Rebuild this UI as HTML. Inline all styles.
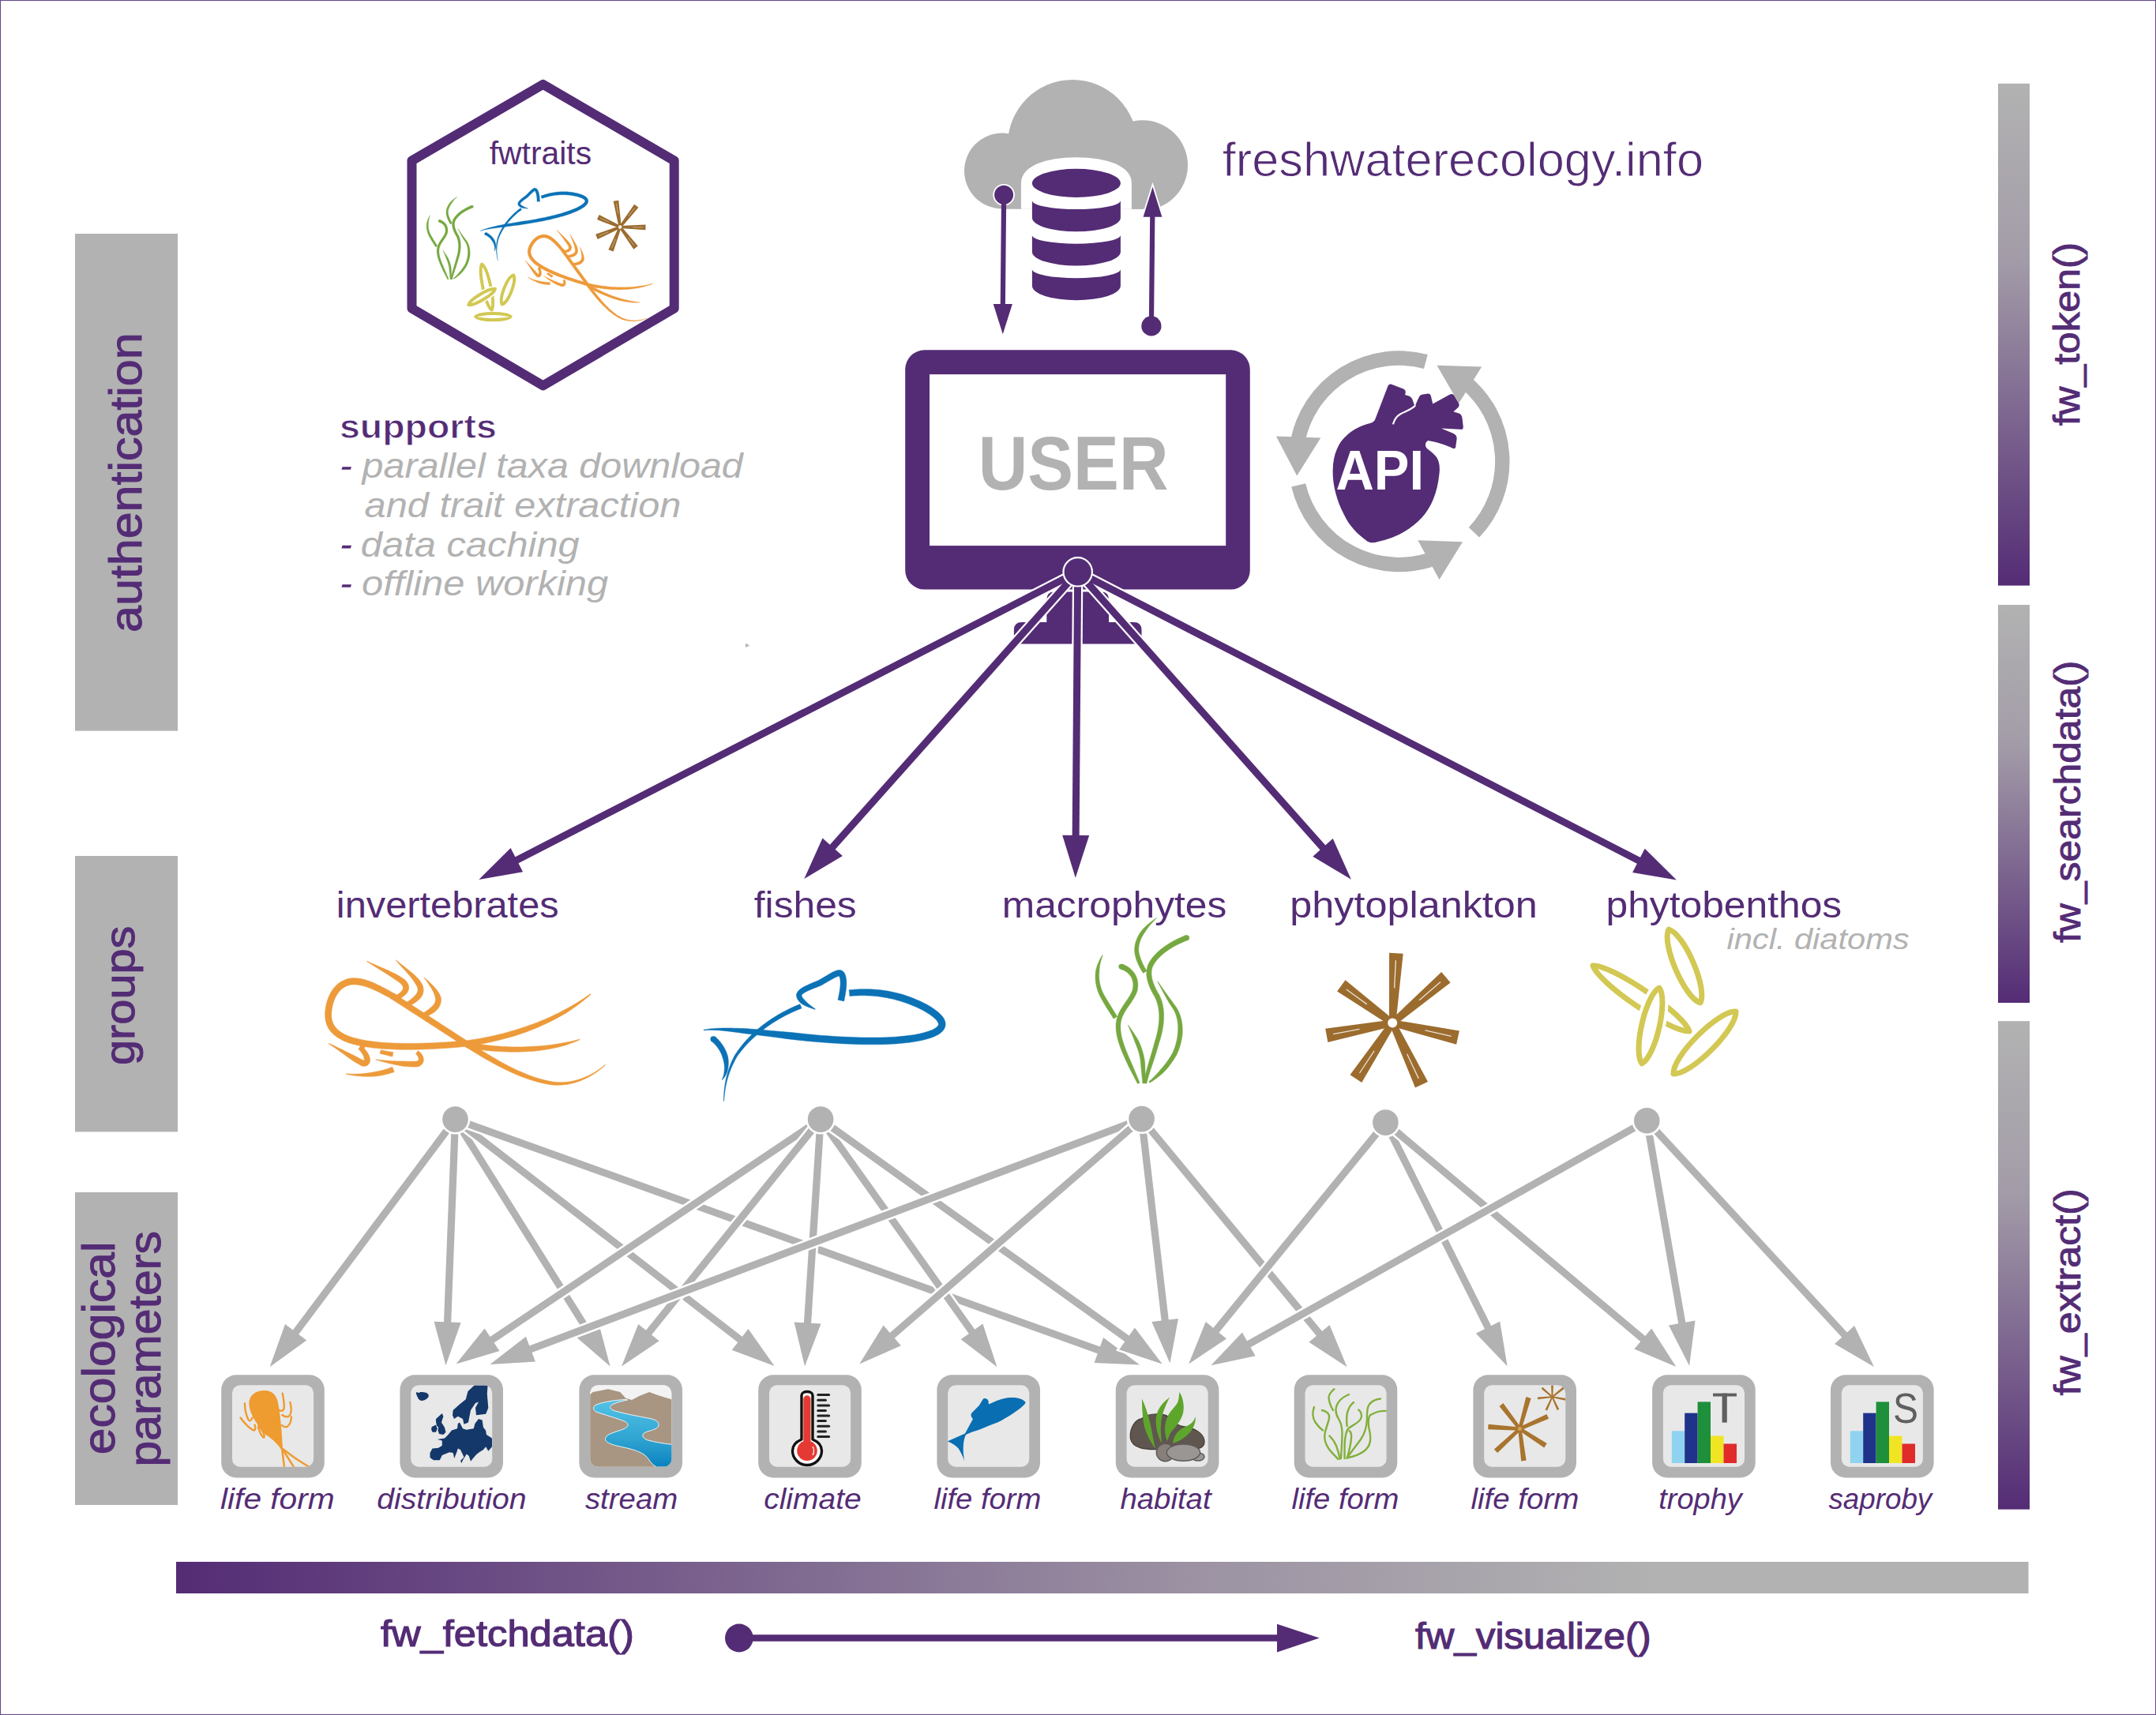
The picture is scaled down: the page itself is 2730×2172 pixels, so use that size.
<!DOCTYPE html><html><head><meta charset="utf-8"><style>html,body{margin:0;padding:0;background:#fff;}svg{display:block;}text{font-family:"Liberation Sans",sans-serif;}</style></head><body>
<svg xmlns="http://www.w3.org/2000/svg" width="2730" height="2172" viewBox="0 0 2730 2172">
<defs>
<linearGradient id="gv" x1="0" y1="0" x2="0" y2="1"><stop offset="0" stop-color="#b2b2b2"/><stop offset="0.35" stop-color="#a39ca8"/><stop offset="1" stop-color="#542c75"/></linearGradient>
<linearGradient id="gh" x1="0" y1="0" x2="1" y2="0"><stop offset="0" stop-color="#542c75"/><stop offset="0.55" stop-color="#9c92a3"/><stop offset="0.8" stop-color="#b2b2b2"/><stop offset="1" stop-color="#b2b2b2"/></linearGradient>
</defs>
<rect x="0" y="0" width="2730" height="2172" fill="#fff"/>
<rect x="0.5" y="0.5" width="2729" height="2171" fill="none" stroke="#6b4d8c" stroke-width="1.2"/>
<rect x="95" y="296" width="130" height="629.6" fill="#b2b2b2"/>
<rect x="95" y="1084" width="130" height="349.4" fill="#b2b2b2"/>
<rect x="95" y="1510" width="130" height="396.0" fill="#b2b2b2"/>
<text transform="translate(179,800.9) rotate(-90)" x="0" y="0" font-size="57" font-weight="normal" font-style="normal" textLength="379.46" lengthAdjust="spacingAndGlyphs" fill="#542c75" stroke="#542c75" stroke-width="1.0">authentication</text>
<text transform="translate(169.6,1349.0) rotate(-90)" x="0" y="0" font-size="54.5" font-weight="normal" font-style="normal" textLength="176.46" lengthAdjust="spacingAndGlyphs" fill="#542c75" stroke="#542c75" stroke-width="1.0">groups</text>
<text transform="translate(145.4,1842.2) rotate(-90)" x="0" y="0" font-size="57" font-weight="normal" font-style="normal" textLength="269.75" lengthAdjust="spacingAndGlyphs" fill="#542c75" stroke="#542c75" stroke-width="1.0">ecological</text>
<text transform="translate(202.8,1857.6) rotate(-90)" x="0" y="0" font-size="57" font-weight="normal" font-style="normal" textLength="298.52" lengthAdjust="spacingAndGlyphs" fill="#542c75" stroke="#542c75" stroke-width="1.0">parameters</text>
<rect x="2530" y="105.8" width="40" height="635.8" fill="url(#gv)"/>
<rect x="2530" y="766" width="40" height="504.0" fill="url(#gv)"/>
<rect x="2530" y="1293.2" width="40" height="618.4" fill="url(#gv)"/>
<text transform="translate(2633.3,539.2) rotate(-90)" x="0" y="0" font-size="45.6" font-weight="normal" font-style="normal" textLength="232.21" lengthAdjust="spacingAndGlyphs" fill="#542c75" stroke="#542c75" stroke-width="0.9">fw_token()</text>
<text transform="translate(2633.8,1194.0) rotate(-90)" x="0" y="0" font-size="45.6" font-weight="normal" font-style="normal" textLength="357.47" lengthAdjust="spacingAndGlyphs" fill="#542c75" stroke="#542c75" stroke-width="0.9">fw_searchdata()</text>
<text transform="translate(2633.7,1767.4) rotate(-90)" x="0" y="0" font-size="45.6" font-weight="normal" font-style="normal" textLength="262.07" lengthAdjust="spacingAndGlyphs" fill="#542c75" stroke="#542c75" stroke-width="0.9">fw_extract()</text>
<rect x="223" y="1978" width="2345.5" height="40" fill="url(#gh)"/>
<text x="482.0" y="2084.9" font-size="46.4" font-weight="normal" font-style="normal" textLength="320.81" lengthAdjust="spacingAndGlyphs" fill="#542c75" stroke="#542c75" stroke-width="1.2">fw_fetchdata()</text>
<text x="1792.1" y="2087.9" font-size="46.4" font-weight="normal" font-style="normal" textLength="298.65" lengthAdjust="spacingAndGlyphs" fill="#542c75" stroke="#542c75" stroke-width="1.2">fw_visualize()</text>
<line x1="936" y1="2074.6" x2="1620" y2="2074.6" stroke="#542c75" stroke-width="8.5"/>
<polygon points="1670.8,2074.6 1617,2056.8 1617,2092.4" fill="#542c75"/>
<circle cx="935.9" cy="2074.5" r="17.9" fill="#542c75"/>
<rect x="280.2" y="1741.2" width="130.6" height="130.2" rx="19" fill="#b2b2b2"/>
<rect x="294.0" y="1754.2" width="103.1" height="103.6" rx="10" fill="#e8e8e8"/>
<rect x="506.4" y="1741.2" width="130.6" height="130.2" rx="19" fill="#b2b2b2"/>
<rect x="520.2" y="1754.2" width="103.1" height="103.6" rx="10" fill="#e8e8e8"/>
<rect x="733.4" y="1741.2" width="130.6" height="130.2" rx="19" fill="#b2b2b2"/>
<rect x="747.2" y="1754.2" width="103.1" height="103.6" rx="10" fill="#e8e8e8"/>
<rect x="960.2" y="1741.2" width="130.6" height="130.2" rx="19" fill="#b2b2b2"/>
<rect x="974.0" y="1754.2" width="103.1" height="103.6" rx="10" fill="#e8e8e8"/>
<rect x="1186.4" y="1741.2" width="130.6" height="130.2" rx="19" fill="#b2b2b2"/>
<rect x="1200.2" y="1754.2" width="103.1" height="103.6" rx="10" fill="#e8e8e8"/>
<rect x="1412.8" y="1741.2" width="130.6" height="130.2" rx="19" fill="#b2b2b2"/>
<rect x="1426.6" y="1754.2" width="103.1" height="103.6" rx="10" fill="#e8e8e8"/>
<rect x="1638.7" y="1741.2" width="130.6" height="130.2" rx="19" fill="#b2b2b2"/>
<rect x="1652.5" y="1754.2" width="103.1" height="103.6" rx="10" fill="#e8e8e8"/>
<rect x="1865.4" y="1741.2" width="130.6" height="130.2" rx="19" fill="#b2b2b2"/>
<rect x="1879.2" y="1754.2" width="103.1" height="103.6" rx="10" fill="#e8e8e8"/>
<rect x="2092.1" y="1741.2" width="130.6" height="130.2" rx="19" fill="#b2b2b2"/>
<rect x="2105.9" y="1754.2" width="103.1" height="103.6" rx="10" fill="#e8e8e8"/>
<rect x="2318.0" y="1741.2" width="130.6" height="130.2" rx="19" fill="#b2b2b2"/>
<rect x="2331.8" y="1754.2" width="103.1" height="103.6" rx="10" fill="#e8e8e8"/>
<defs>
<clipPath id="cb0"><rect x="14.0" y="14.2" width="103.1" height="103.6" rx="10"/></clipPath>
<clipPath id="cb1"><rect x="14.2" y="14.2" width="103.1" height="103.6" rx="10"/></clipPath>
<clipPath id="cb2"><rect x="14.2" y="14.2" width="103.1" height="103.6" rx="10"/></clipPath>
<clipPath id="cb3"><rect x="14.0" y="14.2" width="103.1" height="103.6" rx="10"/></clipPath>
<clipPath id="cb4"><rect x="14.2" y="14.2" width="103.1" height="103.6" rx="10"/></clipPath>
<clipPath id="cb5"><rect x="14.6" y="14.2" width="103.1" height="103.6" rx="10"/></clipPath>
<clipPath id="cb6"><rect x="14.5" y="14.2" width="103.1" height="103.6" rx="10"/></clipPath>
<clipPath id="cb7"><rect x="15.2" y="14.2" width="103.1" height="103.6" rx="10"/></clipPath>
<clipPath id="cb8"><rect x="14.9" y="14.2" width="103.1" height="103.6" rx="10"/></clipPath>
<clipPath id="cb9"><rect x="14.8" y="14.2" width="103.1" height="103.6" rx="10"/></clipPath>
<linearGradient id="river" x1="0" y1="0" x2="0" y2="1"><stop offset="0" stop-color="#55c3e8"/><stop offset="0.6" stop-color="#2ea3d1"/><stop offset="1" stop-color="#0a82bf"/></linearGradient>
</defs>
<g transform="translate(280,1740)" clip-path="url(#cb0)">
<path d="M35.4,38 C35,27 44,21 55,21 C64,21 69,26 71.5,34 C74,45 75.5,60 76.5,72 L78,95 L76,95.5 C71,88 63,81 58,78 C51,73 48,69 45.5,63 C40,55 35.6,46 35.4,38 Z" fill="#ee9b30"/>
<g fill="none" stroke="#ee9b30" stroke-width="2.4" stroke-linecap="round">
<path d="M30,37.5 C30,46 32,53 34.5,58 C36,60.5 38.5,59 39.5,55.5"/>
<path d="M24.5,55.5 C30,63 36,69 41,71.5 C43.5,72 44,68 42.5,64.5"/>
<path d="M47,67 C48,72 51,79 53.5,80.5 C55.5,81 55,76 52,72"/>
<path d="M77.7,24.6 C79,32 80.5,39 79.5,44 C78.5,47 76,47.5 74,46"/>
<path d="M87.3,36 C89,42 89,49 87,52.5 C85,55 81,55 77.5,52"/>
<path d="M89,54.5 C88.5,60 87,64.5 84,66.5 C81.5,68 79,67 77,65"/>
<path d="M77,94 C78,102 79,110 80,118"/>
<path d="M77.5,95 C82,102 87,110 92,118"/>
<path d="M78,95 C88,103 98,110 110,117"/>
</g>
</g>
<g transform="translate(506,1740)" clip-path="url(#cb1)">
<g fill="#15386a">
<path d="M21,25 C20,23 22,22.5 24,24 C26,22.5 30,22.5 34,24 C37.5,25.5 37.5,29 35,31 C32,33.5 28,34.5 26,33.5 C24,32.5 23,30 22,28 Z"/>
<path d="M67.7,46 L76,38.5 L83.8,32.3 L86.5,22 L94.6,14.6 L111.5,14.6 L110.8,25.4 L112.3,43 L109.2,50.8 L97,52.3 L96,43 L100,35.4 L96,37 L90,46 L88.5,53.8 L87,61.5 L81.5,63.8 L80,57 L73.8,53.8 L69,57 L67,52.3 Z"/>
<path d="M38.5,100 L41.5,94.6 L49.2,93.8 L53.8,90.8 L53.8,84.6 L47.7,83 L57,81.5 L61.5,77 L66,71.5 L73,69.2 L73.8,63 L76,61.5 L80,69.2 L84.6,70.8 L93.8,69.2 L95.4,63 L100,57 L104.6,58.5 L106,67.7 L109,71.5 L110,77 L117,81.5 L117,92.3 L112.3,97.7 L109.2,92.3 L106,96 L100.8,99.2 L97,102.3 L92.3,107.7 L90,110.8 L87.7,103.8 L84.6,101.5 L83,104.6 L80,109.2 L78.5,113 L77,110 L81.5,105.4 L80,102.3 L77,96 L73.8,94.6 L72.3,99.2 L69.2,107 L67.7,100 L63,99.2 L53.8,103 L50.8,109.2 L43,109.2 L38.5,106 Z"/>
<path d="M46,57 L53.8,50 L55.4,53.8 L53,61.5 L57,67.7 L58.5,73.8 L55.4,77 L50,76 L48.5,71.5 L49.2,67.7 L47,65.4 L46,60.8 Z"/>
<path d="M40.8,67 L46,64.6 L47.7,69.2 L46,73.8 L41.5,73.8 L40,70 Z"/>
</g>
</g>
<g transform="translate(733,1740)" clip-path="url(#cb2)">
<rect x="0" y="0" width="130" height="130" fill="#f3f3f3"/>
<path d="M13,27 L17.7,23 L37,19.2 L52.3,23 L59.2,30.8 L67,33 L77,27.7 L89.2,23 L100,27 L120,33 L120,125 L13,125 Z" fill="#a89682"/>
<path d="M60,32.3 C50,33 30,35 21,39.5 C17,42 18,46.5 23,48.5 C30,51 48,56 57.7,60 C64,63 64,67.5 53.8,70.8 C45,74 36,76 33.8,80.8 C32,85 37,89 53.8,92.3 C66,95 78,98 84.6,103.8 C89,108 91,114 98.5,118 L120,118 L120,89.5 C112,89 96,86.5 86,83.5 C80,81 79,76 84.6,73.8 C90,71.5 98,71 100.8,66 C102,61 98,58 90,56.5 C80,54.5 60,51 46,47 C38,44.5 38,41 43,38.5 C48,36 56,34 61.5,33 Z" fill="url(#river)" stroke="#e9f4f8" stroke-width="1"/>
</g>
<g transform="translate(960,1740)" clip-path="url(#cb3)">
<path d="M55,27 C55,21 69,21 69,27 L69,83 C76,86 80.5,91 80.5,97.3 C80.5,107.5 72,115.5 62,115.5 C52,115.5 43.5,107.5 43.5,97.3 C43.5,91 48,86 55,83 Z" fill="#fff" stroke="#111" stroke-width="3.4" stroke-linejoin="round"/>
<rect x="57.3" y="27.3" width="9.2" height="62" rx="4.6" fill="#e53a33"/>
<circle cx="62" cy="97.3" r="12.8" fill="#e53a33"/>
<path d="M69,92 C71,95 71,100 69,103" stroke="#fff" stroke-width="1.3" fill="none"/>
<line x1="75.8" y1="26.5" x2="89.6" y2="26.5" stroke="#222" stroke-width="3" stroke-linecap="round"/>
<line x1="75.8" y1="33.2" x2="85.4" y2="33.2" stroke="#222" stroke-width="3" stroke-linecap="round"/>
<line x1="75.8" y1="40" x2="89.6" y2="40" stroke="#222" stroke-width="3" stroke-linecap="round"/>
<line x1="75.8" y1="46.5" x2="85.4" y2="46.5" stroke="#222" stroke-width="3" stroke-linecap="round"/>
<line x1="75.8" y1="53" x2="89.6" y2="53" stroke="#222" stroke-width="3" stroke-linecap="round"/>
<line x1="75.8" y1="59.6" x2="85.4" y2="59.6" stroke="#222" stroke-width="3" stroke-linecap="round"/>
<line x1="75.8" y1="66.3" x2="89.6" y2="66.3" stroke="#222" stroke-width="3" stroke-linecap="round"/>
<line x1="75.8" y1="73" x2="85.4" y2="73" stroke="#222" stroke-width="3" stroke-linecap="round"/>
<line x1="75.8" y1="79.6" x2="89.6" y2="79.6" stroke="#222" stroke-width="3" stroke-linecap="round"/>
</g>
<g transform="translate(1186,1740)" clip-path="url(#cb4)">
<path d="M112.7,36.2 C110,31 100,29.5 92.3,30 C85,30.5 75,34 66,38.5 L65.4,33.8 C64,31 60,30 58.5,32.3 L53.8,40 L44.6,49.2 C43,51 43,54 46,57 L36,75.4 L13.8,85.4 C20,88 25,91 28,95 C31,100 33.5,105 35.4,110.8 C34,104 33.5,98 33.8,92.3 C34,86 35,81 37,77 C43,74 49,72.5 53.8,70.8 C62,67.5 70,64 77,61.5 C86,57 94,52 100,47.7 C106,43.5 111,40 112.7,36.2 Z" fill="#0a6eb2"/>
</g>
<g transform="translate(1412,1740)" clip-path="url(#cb5)">
<path d="M19.5,82 C18,68 26,58 33,57 C38,53 46,50.5 55,51 C62,51 67,53 71,57 C76,63 80,66 88,67 C100,68.5 112,75 113,85 C113.5,92 108,95 100,95 L55,95.5 C40,96 22,95 19.5,82 Z" fill="#5f574f" stroke="#463f39" stroke-width="1.3"/>
<g fill="#5ea52b">
<path d="M34,31.5 C38,40 42,52 45,65 C47,76 49,86 51,94.6 C46,88 41,79 38,70 C35,60 34,45 34,31.5 Z"/>
<path d="M69,29.6 C64,34 56,40 53,50 C50,60 52,75 59,87.7 C58,78 57,66 59,56 C61,46 65,38 69,29.6 Z"/>
<path d="M81.5,23 C86,30 88,40 86,50 C83,60 76,68 70,75 C68,80 66,84 66,85.4 C62,76 62,64 66,55 C70,46 76,42 78,38 C81,34 80.5,28 81.5,23 Z"/>
<path d="M102,54 C102,62 99,70 93,76 C87,82 80,86 73,87.7 C74,81 77,75 82,71 C87,67 93,66 97,62 C100,59 101,56 102,54 Z"/>
</g>
<ellipse cx="63.5" cy="99.5" rx="11.2" ry="11.2" fill="#877f79" stroke="#5e5a57" stroke-width="1.4"/>
<ellipse cx="105" cy="105" rx="8" ry="5" fill="#9a9693" stroke="#5e5a57" stroke-width="1.4"/>
<ellipse cx="86.5" cy="99.6" rx="21.2" ry="10.6" fill="#9a9693" stroke="#5e5a57" stroke-width="1.4"/>
</g>
<g transform="translate(1638,1740)" clip-path="url(#cb6)">
<g fill="none" stroke="#82b03c" stroke-width="2.4" stroke-linecap="round">
<path d="M26,42 C23,50 24,56 27.7,61.5 C30,65 33,68.5 37,71.5"/>
<path d="M36,46 C42,47 46,51 45,56 C44,62 41,68 39.5,75.4 C38.5,82 40,88 44,94 C48,100 53,104 56,107.7"/>
<path d="M51.5,19.2 C47,23 44,27 44.6,31 C45,36 47,41 50,46"/>
<path d="M70,26 C63,29 56,34 54,42 C52.5,48 54,52 57,57 C60,62 61.5,68 61.5,75 C61.5,85 60.5,97 60,107"/>
<path d="M76,36 C71,40 68.5,46 67.5,52 C66.8,58 67.2,62 67.7,66"/>
<path d="M82.3,45.4 C86,48 87,53 85,57 C82,62 75,65 70,68.5 C66,72 65,80 64.6,90 C64.5,98 64.6,103 64.6,107"/>
<path d="M110,31.5 C104,32 98,35 95,40 C92.5,45 93,52 93,58 C92.5,66 90.5,75 85,83 C79,91 73,99 67.7,106"/>
<path d="M117.7,47 C110,46.5 103,48.5 97,52.3 C94,56 94.5,63 95.5,69 C97,75 98.5,82 96,89 C93,97 83,103 69.2,106"/>
<path d="M45.4,78.5 C49,82 52,86 54,91 C56,96 57.5,101 58.5,107.7"/>
<path d="M70.8,72.3 C73,74 73.5,78 73,82 C72.5,88 70.5,97 67.7,107"/>
</g>
</g>
<g transform="translate(1864,1740)" clip-path="url(#cb7)">
<polygon points="62.5,70.2 74.6,30.9 68.4,29.1 58.3,69.0" fill="#a8742e"/>
<polygon points="62.1,68.3 39.5,37.1 34.5,40.9 58.7,70.9" fill="#a8742e"/>
<polygon points="60.5,67.4 20.6,63.8 20.2,70.2 60.3,71.8" fill="#a8742e"/>
<polygon points="58.9,68.0 27.8,95.4 32.2,100.0 61.9,71.2" fill="#a8742e"/>
<polygon points="58.2,69.9 62.2,110.4 68.6,109.6 62.6,69.3" fill="#a8742e"/>
<polygon points="59.2,71.4 91.3,93.5 94.7,88.1 61.6,67.8" fill="#a8742e"/>
<polygon points="61.3,71.6 97.1,56.7 94.5,50.9 59.5,67.6" fill="#a8742e"/>
<circle cx="60.4" cy="69.6" r="2.5" fill="#d4a25c"/>
<polygon points="102.4,29.2 102.9,14.6 100.1,14.6 100.6,29.2" fill="#a8742e"/>
<polygon points="102.1,28.5 89.4,16.7 87.6,18.7 100.9,29.9" fill="#a8742e"/>
<polygon points="101.4,28.3 82.9,29.4 83.1,32.2 101.6,30.1" fill="#a8742e"/>
<polygon points="100.7,28.8 92.5,45.4 95.1,46.6 102.3,29.6" fill="#a8742e"/>
<polygon points="100.7,29.6 107.7,46.0 110.3,44.8 102.3,28.8" fill="#a8742e"/>
<polygon points="101.3,30.1 118.2,33.7 118.8,30.9 101.7,28.3" fill="#a8742e"/>
<polygon points="102.1,29.9 116.9,18.8 115.1,16.6 100.9,28.5" fill="#a8742e"/>
</g>
<g transform="translate(2091,1740)" clip-path="url(#cb8)">
<rect x="25.8" y="72.3" width="16.4" height="40.7" fill="#8fd3f0"/>
<rect x="42.2" y="49.6" width="16.4" height="63.4" fill="#1f338b"/>
<rect x="58.6" y="35.4" width="16.4" height="77.6" fill="#1e8f3a"/>
<rect x="75" y="78.5" width="16.5" height="34.5" fill="#f0e523"/>
<rect x="91.5" y="88.5" width="16.5" height="24.5" fill="#e12b2b"/>
<rect x="78" y="24.6" width="30" height="3.9" fill="#5f5f5f"/><rect x="89.6" y="24.6" width="6.2" height="37" fill="#5f5f5f"/>
</g>
<g transform="translate(2317,1740)" clip-path="url(#cb9)">
<rect x="25.8" y="72.3" width="16.4" height="40.7" fill="#8fd3f0"/>
<rect x="42.2" y="49.6" width="16.4" height="63.4" fill="#1f338b"/>
<rect x="58.6" y="35.4" width="16.4" height="77.6" fill="#1e8f3a"/>
<rect x="75" y="78.5" width="16.5" height="34.5" fill="#f0e523"/>
<rect x="91.5" y="88.5" width="16.5" height="24.5" fill="#e12b2b"/>
<text x="80" y="62.3" font-size="54" fill="#5f5f5f" textLength="32" lengthAdjust="spacingAndGlyphs">S</text>
</g>
<text x="279.0" y="1911.2" font-size="37.5" font-weight="normal" font-style="italic" textLength="144.66" lengthAdjust="spacingAndGlyphs" fill="#542c75" >life form</text>
<text x="477.2" y="1911.2" font-size="37.5" font-weight="normal" font-style="italic" textLength="189.46" lengthAdjust="spacingAndGlyphs" fill="#542c75" >distribution</text>
<text x="740.9" y="1911.2" font-size="37.5" font-weight="normal" font-style="italic" textLength="117.35" lengthAdjust="spacingAndGlyphs" fill="#542c75" >stream</text>
<text x="967.2" y="1911.2" font-size="37.5" font-weight="normal" font-style="italic" textLength="123.55" lengthAdjust="spacingAndGlyphs" fill="#542c75" >climate</text>
<text x="1182.4" y="1911.2" font-size="37.5" font-weight="normal" font-style="italic" textLength="136.01" lengthAdjust="spacingAndGlyphs" fill="#542c75" >life form</text>
<text x="1418.4" y="1911.2" font-size="37.5" font-weight="normal" font-style="italic" textLength="115.18" lengthAdjust="spacingAndGlyphs" fill="#542c75" >habitat</text>
<text x="1635.4" y="1911.2" font-size="37.5" font-weight="normal" font-style="italic" textLength="136.01" lengthAdjust="spacingAndGlyphs" fill="#542c75" >life form</text>
<text x="1862.5" y="1911.2" font-size="37.5" font-weight="normal" font-style="italic" textLength="136.82" lengthAdjust="spacingAndGlyphs" fill="#542c75" >life form</text>
<text x="2100.3" y="1911.2" font-size="37.5" font-weight="normal" font-style="italic" textLength="105.44" lengthAdjust="spacingAndGlyphs" fill="#542c75" >trophy</text>
<text x="2315.4" y="1911.2" font-size="37.5" font-weight="normal" font-style="italic" textLength="130.85" lengthAdjust="spacingAndGlyphs" fill="#542c75" >saproby</text>
<line x1="576.5" y1="1417.6" x2="374.6" y2="1687.2" stroke="#fff" stroke-width="14.399999999999999"/>
<polygon points="341.6,1731.2 361.0,1677.0 388.2,1697.4" fill="#fff" stroke="#fff" stroke-width="5.2" stroke-linejoin="miter"/>
<line x1="576.5" y1="1417.6" x2="369.8" y2="1693.6" stroke="#b2b2b2" stroke-width="9.2"/>
<polygon points="341.6,1731.2 361.0,1677.0 388.2,1697.4" fill="#b2b2b2"/>
<line x1="576.5" y1="1417.6" x2="566.6" y2="1674.3" stroke="#fff" stroke-width="14.399999999999999"/>
<polygon points="564.5,1729.3 549.6,1673.7 583.6,1675.0" fill="#fff" stroke="#fff" stroke-width="5.2" stroke-linejoin="miter"/>
<line x1="576.5" y1="1417.6" x2="566.3" y2="1682.3" stroke="#b2b2b2" stroke-width="9.2"/>
<polygon points="564.5,1729.3 549.6,1673.7 583.6,1675.0" fill="#b2b2b2"/>
<line x1="576.5" y1="1417.6" x2="743.4" y2="1683.8" stroke="#fff" stroke-width="14.399999999999999"/>
<polygon points="772.6,1730.4 729.0,1692.8 757.8,1674.8" fill="#fff" stroke="#fff" stroke-width="5.2" stroke-linejoin="miter"/>
<line x1="576.5" y1="1417.6" x2="747.6" y2="1690.6" stroke="#b2b2b2" stroke-width="9.2"/>
<polygon points="772.6,1730.4 729.0,1692.8 757.8,1674.8" fill="#b2b2b2"/>
<line x1="576.5" y1="1417.6" x2="937.1" y2="1696.4" stroke="#fff" stroke-width="14.399999999999999"/>
<polygon points="980.6,1730.0 926.7,1709.8 947.5,1682.9" fill="#fff" stroke="#fff" stroke-width="5.2" stroke-linejoin="miter"/>
<line x1="576.5" y1="1417.6" x2="943.4" y2="1701.3" stroke="#b2b2b2" stroke-width="9.2"/>
<polygon points="980.6,1730.0 926.7,1709.8 947.5,1682.9" fill="#b2b2b2"/>
<line x1="576.5" y1="1417.6" x2="1391.3" y2="1709.9" stroke="#fff" stroke-width="14.399999999999999"/>
<polygon points="1443.1,1728.5 1385.6,1725.9 1397.1,1693.9" fill="#fff" stroke="#fff" stroke-width="5.2" stroke-linejoin="miter"/>
<line x1="576.5" y1="1417.6" x2="1398.9" y2="1712.6" stroke="#b2b2b2" stroke-width="9.2"/>
<polygon points="1443.1,1728.5 1385.6,1725.9 1397.1,1693.9" fill="#b2b2b2"/>
<line x1="1039.1" y1="1417.6" x2="623.1" y2="1696.8" stroke="#fff" stroke-width="14.399999999999999"/>
<polygon points="577.4,1727.4 613.6,1682.6 632.5,1710.9" fill="#fff" stroke="#fff" stroke-width="5.2" stroke-linejoin="miter"/>
<line x1="1039.1" y1="1417.6" x2="616.4" y2="1701.2" stroke="#b2b2b2" stroke-width="9.2"/>
<polygon points="577.4,1727.4 613.6,1682.6 632.5,1710.9" fill="#b2b2b2"/>
<line x1="1039.1" y1="1417.6" x2="821.5" y2="1687.6" stroke="#fff" stroke-width="14.399999999999999"/>
<polygon points="787.0,1730.4 808.3,1676.9 834.7,1698.2" fill="#fff" stroke="#fff" stroke-width="5.2" stroke-linejoin="miter"/>
<line x1="1039.1" y1="1417.6" x2="816.5" y2="1693.8" stroke="#b2b2b2" stroke-width="9.2"/>
<polygon points="787.0,1730.4 808.3,1676.9 834.7,1698.2" fill="#b2b2b2"/>
<line x1="1039.1" y1="1417.6" x2="1022.5" y2="1675.5" stroke="#fff" stroke-width="14.399999999999999"/>
<polygon points="1019.0,1730.4 1005.6,1674.4 1039.5,1676.6" fill="#fff" stroke="#fff" stroke-width="5.2" stroke-linejoin="miter"/>
<line x1="1039.1" y1="1417.6" x2="1022.0" y2="1683.5" stroke="#b2b2b2" stroke-width="9.2"/>
<polygon points="1019.0,1730.4 1005.6,1674.4 1039.5,1676.6" fill="#b2b2b2"/>
<line x1="1039.1" y1="1417.6" x2="1230.6" y2="1686.4" stroke="#fff" stroke-width="14.399999999999999"/>
<polygon points="1262.5,1731.2 1216.7,1696.3 1244.4,1676.5" fill="#fff" stroke="#fff" stroke-width="5.2" stroke-linejoin="miter"/>
<line x1="1039.1" y1="1417.6" x2="1235.2" y2="1692.9" stroke="#b2b2b2" stroke-width="9.2"/>
<polygon points="1262.5,1731.2 1216.7,1696.3 1244.4,1676.5" fill="#b2b2b2"/>
<line x1="1039.1" y1="1417.6" x2="1427.0" y2="1695.4" stroke="#fff" stroke-width="14.399999999999999"/>
<polygon points="1471.7,1727.4 1417.1,1709.2 1436.9,1681.6" fill="#fff" stroke="#fff" stroke-width="5.2" stroke-linejoin="miter"/>
<line x1="1039.1" y1="1417.6" x2="1433.5" y2="1700.0" stroke="#b2b2b2" stroke-width="9.2"/>
<polygon points="1471.7,1727.4 1417.1,1709.2 1436.9,1681.6" fill="#b2b2b2"/>
<line x1="1445.6" y1="1417.1" x2="671.9" y2="1708.7" stroke="#fff" stroke-width="14.399999999999999"/>
<polygon points="620.4,1728.1 665.9,1692.8 677.9,1724.6" fill="#fff" stroke="#fff" stroke-width="5.2" stroke-linejoin="miter"/>
<line x1="1445.6" y1="1417.1" x2="664.4" y2="1711.5" stroke="#b2b2b2" stroke-width="9.2"/>
<polygon points="620.4,1728.1 665.9,1692.8 677.9,1724.6" fill="#b2b2b2"/>
<line x1="1445.6" y1="1417.1" x2="1129.7" y2="1691.3" stroke="#fff" stroke-width="14.399999999999999"/>
<polygon points="1088.2,1727.4 1118.6,1678.5 1140.9,1704.2" fill="#fff" stroke="#fff" stroke-width="5.2" stroke-linejoin="miter"/>
<line x1="1445.6" y1="1417.1" x2="1123.7" y2="1696.6" stroke="#b2b2b2" stroke-width="9.2"/>
<polygon points="1088.2,1727.4 1118.6,1678.5 1140.9,1704.2" fill="#b2b2b2"/>
<line x1="1445.6" y1="1417.1" x2="1475.2" y2="1672.0" stroke="#fff" stroke-width="14.399999999999999"/>
<polygon points="1481.5,1726.6 1458.3,1673.9 1492.0,1670.0" fill="#fff" stroke="#fff" stroke-width="5.2" stroke-linejoin="miter"/>
<line x1="1445.6" y1="1417.1" x2="1476.1" y2="1679.9" stroke="#b2b2b2" stroke-width="9.2"/>
<polygon points="1481.5,1726.6 1458.3,1673.9 1492.0,1670.0" fill="#b2b2b2"/>
<line x1="1445.6" y1="1417.1" x2="1670.5" y2="1688.8" stroke="#fff" stroke-width="14.399999999999999"/>
<polygon points="1705.6,1731.2 1657.4,1699.7 1683.6,1678.0" fill="#fff" stroke="#fff" stroke-width="5.2" stroke-linejoin="miter"/>
<line x1="1445.6" y1="1417.1" x2="1675.6" y2="1695.0" stroke="#b2b2b2" stroke-width="9.2"/>
<polygon points="1705.6,1731.2 1657.4,1699.7 1683.6,1678.0" fill="#b2b2b2"/>
<line x1="1754.4" y1="1421.6" x2="1539.9" y2="1684.8" stroke="#fff" stroke-width="14.399999999999999"/>
<polygon points="1505.1,1727.4 1526.7,1674.0 1553.0,1695.5" fill="#fff" stroke="#fff" stroke-width="5.2" stroke-linejoin="miter"/>
<line x1="1754.4" y1="1421.6" x2="1534.8" y2="1691.0" stroke="#b2b2b2" stroke-width="9.2"/>
<polygon points="1505.1,1727.4 1526.7,1674.0 1553.0,1695.5" fill="#b2b2b2"/>
<line x1="1754.4" y1="1421.6" x2="1884.0" y2="1681.1" stroke="#fff" stroke-width="14.399999999999999"/>
<polygon points="1908.6,1730.3 1868.8,1688.7 1899.2,1673.5" fill="#fff" stroke="#fff" stroke-width="5.2" stroke-linejoin="miter"/>
<line x1="1754.4" y1="1421.6" x2="1887.6" y2="1688.3" stroke="#b2b2b2" stroke-width="9.2"/>
<polygon points="1908.6,1730.3 1868.8,1688.7 1899.2,1673.5" fill="#b2b2b2"/>
<line x1="1754.4" y1="1421.6" x2="2080.3" y2="1695.6" stroke="#fff" stroke-width="14.399999999999999"/>
<polygon points="2122.4,1731.0 2069.4,1708.6 2091.2,1682.6" fill="#fff" stroke="#fff" stroke-width="5.2" stroke-linejoin="miter"/>
<line x1="1754.4" y1="1421.6" x2="2086.4" y2="1700.8" stroke="#b2b2b2" stroke-width="9.2"/>
<polygon points="2122.4,1731.0 2069.4,1708.6 2091.2,1682.6" fill="#b2b2b2"/>
<line x1="2085.3" y1="1419.3" x2="1581.3" y2="1702.4" stroke="#fff" stroke-width="14.399999999999999"/>
<polygon points="1533.3,1729.3 1572.9,1687.5 1589.6,1717.2" fill="#fff" stroke="#fff" stroke-width="5.2" stroke-linejoin="miter"/>
<line x1="2085.3" y1="1419.3" x2="1574.3" y2="1706.3" stroke="#b2b2b2" stroke-width="9.2"/>
<polygon points="1533.3,1729.3 1572.9,1687.5 1589.6,1717.2" fill="#b2b2b2"/>
<line x1="2085.3" y1="1419.3" x2="2129.7" y2="1675.5" stroke="#fff" stroke-width="14.399999999999999"/>
<polygon points="2139.1,1729.7 2113.0,1678.4 2146.5,1672.6" fill="#fff" stroke="#fff" stroke-width="5.2" stroke-linejoin="miter"/>
<line x1="2085.3" y1="1419.3" x2="2131.1" y2="1683.4" stroke="#b2b2b2" stroke-width="9.2"/>
<polygon points="2139.1,1729.7 2113.0,1678.4 2146.5,1672.6" fill="#b2b2b2"/>
<line x1="2085.3" y1="1419.3" x2="2335.6" y2="1690.6" stroke="#fff" stroke-width="14.399999999999999"/>
<polygon points="2372.9,1731.0 2323.1,1702.1 2348.1,1679.0" fill="#fff" stroke="#fff" stroke-width="5.2" stroke-linejoin="miter"/>
<line x1="2085.3" y1="1419.3" x2="2341.0" y2="1696.5" stroke="#b2b2b2" stroke-width="9.2"/>
<polygon points="2372.9,1731.0 2323.1,1702.1 2348.1,1679.0" fill="#b2b2b2"/>
<circle cx="576.5" cy="1417.6" r="17.6" fill="#b2b2b2" stroke="#fff" stroke-width="2.6"/>
<circle cx="1039.1" cy="1417.6" r="17.6" fill="#b2b2b2" stroke="#fff" stroke-width="2.6"/>
<circle cx="1445.6" cy="1417.1" r="17.6" fill="#b2b2b2" stroke="#fff" stroke-width="2.6"/>
<circle cx="1754.4" cy="1421.6" r="17.6" fill="#b2b2b2" stroke="#fff" stroke-width="2.6"/>
<circle cx="2085.3" cy="1419.3" r="17.6" fill="#b2b2b2" stroke="#fff" stroke-width="2.6"/>
<text x="425.8" y="1162" font-size="47" font-weight="normal" font-style="normal" textLength="281.88" lengthAdjust="spacingAndGlyphs" fill="#542c75" >invertebrates</text>
<text x="954.8" y="1162" font-size="47" font-weight="normal" font-style="normal" textLength="129.94" lengthAdjust="spacingAndGlyphs" fill="#542c75" >fishes</text>
<text x="1268.8" y="1162" font-size="47" font-weight="normal" font-style="normal" textLength="284.55" lengthAdjust="spacingAndGlyphs" fill="#542c75" >macrophytes</text>
<text x="1633.3" y="1162" font-size="47" font-weight="normal" font-style="normal" textLength="313.58" lengthAdjust="spacingAndGlyphs" fill="#542c75" >phytoplankton</text>
<text x="2033.5" y="1162" font-size="47" font-weight="normal" font-style="normal" textLength="298.68" lengthAdjust="spacingAndGlyphs" fill="#542c75" >phytobenthos</text>
<text x="2186.5" y="1201.5" font-size="36" font-weight="normal" font-style="italic" textLength="231.1" lengthAdjust="spacingAndGlyphs" fill="#b2b2b2" >incl. diatoms</text>
<defs>
<g id="shrimp" fill="#ed9a3a" stroke="#ed9a3a" stroke-width="3" stroke-linejoin="round">
<path d="M549.6,322.4 L538.7,316.4 L527.8,310.3 L517.0,304.3 L506.3,298.4 L495.5,292.4 L484.9,286.6 L474.3,280.9 L463.7,275.3 L453.1,269.7 L442.6,264.4 L432.2,259.1 L421.8,254.1 L411.4,249.2 L401.0,244.5 L390.7,240.0 L380.4,235.8 L370.1,231.7 L359.8,228.0 L349.6,224.5 L339.4,221.3 L329.2,218.4 L319.0,215.9 L308.8,213.7 L298.6,211.9 L288.4,210.5 L278.2,209.6 L268.0,209.0 L257.8,208.9 L247.7,209.3 L237.2,210.2 L226.8,212.0 L216.9,214.3 L207.3,217.2 L197.9,220.5 L188.9,224.4 L180.1,228.7 L171.6,233.5 L163.4,238.8 L155.5,244.5 L147.9,250.6 L140.6,257.1 L133.7,264.0 L127.0,271.3 L120.7,279.0 L114.8,286.9 L109.1,295.2 L103.8,303.8 L98.8,312.7 L94.1,321.8 L89.7,331.3 L85.7,341.0 L81.9,350.9 L78.5,361.1 L75.4,371.5 L72.6,382.1 L70.1,392.9 L68.0,403.9 L66.1,415.1 L64.6,426.5 L63.4,438.2 L62.8,448.0 L62.6,457.5 L62.8,466.9 L63.3,476.1 L64.2,485.2 L65.5,494.1 L67.2,502.9 L69.4,511.5 L71.9,520.0 L74.9,528.2 L78.4,536.3 L82.2,544.2 L86.5,551.9 L91.2,559.4 L96.4,566.7 L101.9,573.7 L107.9,580.5 L114.3,587.1 L121.2,593.5 L128.4,599.6 L136.0,605.6 L144.0,611.3 L152.4,616.8 L161.2,622.1 L170.5,627.2 L180.1,632.2 L190.1,636.9 L200.6,641.5 L211.4,645.9 L223.1,650.3 L239.3,655.4 L256.0,660.1 L273.6,664.6 L291.9,668.7 L310.9,672.6 L330.7,676.2 L351.3,679.5 L372.6,682.5 L394.7,685.2 L417.5,687.6 L441.1,689.8 L465.5,691.6 L490.6,693.2 L516.4,694.5 L543.1,695.5 L570.4,696.2 L598.6,696.6 L627.4,696.7 L657.0,696.6 L687.4,696.1 L718.5,695.3 L750.4,694.2 L783.0,692.8 L816.3,691.1 L850.4,689.1 L885.2,686.8 L920.8,684.3 L957.1,681.4 L994.1,678.2 L1032.3,674.6 L1064.9,669.6 L1097.0,664.3 L1128.8,658.5 L1160.5,652.3 L1192.1,645.7 L1223.4,638.6 L1254.5,631.0 L1285.4,623.0 L1316.1,614.6 L1346.5,605.7 L1376.7,596.3 L1406.6,586.5 L1436.2,576.1 L1465.3,565.0 L1494.2,553.4 L1522.7,541.3 L1550.9,528.8 L1578.7,515.8 L1606.1,502.4 L1633.2,488.5 L1659.8,474.2 L1686.1,459.3 L1711.9,444.0 L1736.9,427.6 L1761.4,410.8 L1785.5,393.5 L1809.0,375.8 L1832.1,357.6 L1854.6,339.0 L1876.5,320.0 L1873.5,316.0 L1849.9,332.9 L1826.0,349.3 L1801.6,365.1 L1776.8,380.5 L1751.6,395.3 L1726.0,409.6 L1700.0,423.4 L1674.0,437.4 L1647.6,450.9 L1620.9,464.0 L1593.8,476.6 L1566.4,488.8 L1538.6,500.4 L1510.5,511.6 L1482.1,522.4 L1453.4,532.7 L1424.4,542.5 L1395.2,552.2 L1365.8,561.6 L1336.1,570.5 L1306.1,578.9 L1276.0,587.0 L1245.6,594.6 L1214.9,601.7 L1184.1,608.4 L1153.1,614.7 L1121.8,620.6 L1090.5,626.0 L1058.9,630.9 L1027.7,635.4 L990.7,638.5 L953.9,641.4 L917.8,644.1 L882.6,646.4 L848.0,648.4 L814.2,650.2 L781.2,651.6 L748.9,652.8 L717.4,653.7 L686.7,654.3 L656.7,654.6 L627.5,654.7 L599.0,654.5 L571.3,654.0 L544.4,653.3 L518.3,652.2 L493.0,650.9 L468.4,649.3 L444.7,647.5 L421.7,645.4 L399.6,643.0 L378.2,640.3 L357.7,637.4 L337.9,634.2 L319.0,630.7 L300.9,627.0 L283.6,623.0 L267.2,618.8 L251.5,614.4 L236.9,609.7 L227.0,606.0 L217.2,602.0 L207.9,597.9 L199.1,593.7 L190.7,589.4 L182.8,584.9 L175.3,580.4 L168.3,575.8 L161.7,571.1 L155.6,566.3 L149.8,561.4 L144.5,556.4 L139.6,551.3 L135.0,546.1 L130.9,540.8 L127.1,535.4 L123.6,529.9 L120.5,524.3 L117.6,518.5 L115.1,512.5 L112.9,506.4 L111.0,500.1 L109.4,493.6 L108.1,486.8 L107.1,479.9 L106.4,472.7 L106.0,465.3 L105.9,457.7 L106.1,449.8 L106.6,441.8 L107.7,431.7 L109.0,421.6 L110.7,411.7 L112.6,402.0 L114.8,392.5 L117.2,383.3 L119.9,374.3 L122.9,365.5 L126.1,357.1 L129.5,348.9 L133.2,341.0 L137.1,333.3 L141.3,326.0 L145.6,319.0 L150.2,312.3 L155.0,306.0 L160.0,299.9 L165.2,294.3 L170.6,288.9 L176.2,283.9 L182.0,279.3 L188.0,275.0 L194.1,271.0 L200.5,267.4 L207.1,264.2 L213.8,261.3 L220.8,258.9 L228.0,256.7 L235.5,255.0 L242.8,253.8 L250.4,253.1 L258.4,252.8 L266.6,252.9 L274.9,253.4 L283.3,254.2 L291.8,255.4 L300.5,256.9 L309.3,258.6 L318.2,260.7 L327.3,263.1 L336.5,265.8 L345.8,268.8 L355.2,272.1 L364.7,275.7 L374.3,279.5 L384.1,283.5 L393.9,287.8 L403.8,292.3 L413.9,297.0 L424.0,301.9 L434.3,306.9 L444.6,312.1 L455.0,317.4 L465.5,322.9 L476.1,328.5 L486.8,334.2 L497.6,339.9 L508.4,345.8 L519.4,351.6 L530.4,357.6 Z"/>
<path d="M509.1,346.8 L526.1,357.8 L543.1,368.8 L560.1,379.8 L577.1,390.8 L594.1,401.8 L611.1,412.8 L628.1,423.8 L645.1,434.8 L662.1,445.8 L679.1,456.8 L696.1,467.8 L713.1,478.8 L730.1,489.8 L747.1,500.8 L764.1,511.8 L781.1,522.8 L798.1,533.8 L815.1,544.8 L832.1,555.8 L849.1,566.8 L866.1,577.8 L883.1,588.8 L900.1,599.8 L917.1,610.8 L934.1,621.8 L951.1,632.8 L968.1,643.8 L985.1,654.8 L1002.2,665.7 L1019.3,676.5 L1036.6,687.3 L1054.1,698.2 L1071.8,709.2 L1089.7,720.1 L1107.7,731.0 L1125.9,741.9 L1144.3,752.7 L1162.9,763.5 L1181.6,774.1 L1200.4,784.7 L1219.4,795.1 L1238.6,805.3 L1257.8,815.3 L1277.2,825.1 L1296.7,834.7 L1316.3,844.0 L1336.1,853.0 L1355.9,861.7 L1375.8,870.1 L1395.7,878.2 L1415.8,885.9 L1435.9,893.3 L1456.0,900.2 L1476.2,906.7 L1496.5,912.8 L1516.8,918.4 L1537.1,923.6 L1557.4,928.2 L1577.8,932.3 L1598.2,935.8 L1614.7,937.6 L1631.0,938.7 L1647.0,939.2 L1662.9,939.1 L1678.5,938.3 L1693.9,936.9 L1709.1,935.0 L1724.1,932.6 L1738.8,929.7 L1753.3,926.3 L1767.5,922.5 L1781.4,918.2 L1795.0,913.6 L1808.4,908.6 L1821.4,903.2 L1834.1,897.6 L1846.6,891.7 L1858.7,885.5 L1870.5,879.1 L1881.9,872.4 L1893.0,865.6 L1903.7,858.7 L1914.1,851.6 L1924.1,844.4 L1933.7,837.2 L1942.9,829.9 L1951.7,822.6 L1960.1,815.3 L1968.1,808.0 L1975.7,800.7 L1974.3,799.3 L1966.5,806.1 L1958.2,812.9 L1949.5,819.8 L1940.4,826.6 L1930.9,833.4 L1921.0,840.1 L1910.8,846.7 L1900.3,853.2 L1889.3,859.6 L1878.1,865.7 L1866.5,871.7 L1854.7,877.4 L1842.5,882.9 L1830.1,888.1 L1817.3,893.0 L1804.4,897.6 L1791.1,901.9 L1777.7,905.7 L1764.0,909.2 L1750.1,912.2 L1736.0,914.8 L1721.7,917.0 L1707.2,918.6 L1692.5,919.7 L1677.7,920.3 L1662.8,920.3 L1647.7,919.7 L1632.5,918.5 L1617.1,916.7 L1601.8,914.2 L1582.2,910.2 L1562.6,905.6 L1543.0,900.5 L1523.4,895.0 L1503.8,888.9 L1484.2,882.4 L1464.7,875.4 L1445.3,868.1 L1425.8,860.3 L1406.5,852.1 L1387.2,843.7 L1368.0,834.8 L1348.8,825.7 L1329.8,816.3 L1310.8,806.6 L1291.9,796.6 L1273.1,786.5 L1254.4,776.2 L1235.8,765.6 L1217.3,755.0 L1199.0,744.1 L1180.8,733.2 L1162.7,722.1 L1144.8,711.0 L1127.0,699.8 L1109.4,688.5 L1092.0,677.2 L1074.7,666.0 L1057.6,654.7 L1040.7,643.5 L1023.8,632.3 L1006.9,621.2 L989.9,610.2 L972.9,599.2 L955.9,588.2 L938.9,577.2 L921.9,566.2 L904.9,555.2 L887.9,544.2 L870.9,533.2 L853.9,522.2 L836.9,511.2 L819.9,500.2 L802.9,489.2 L785.9,478.2 L768.9,467.2 L751.9,456.2 L734.9,445.2 L717.9,434.2 L700.9,423.2 L683.9,412.2 L666.9,401.2 L649.9,390.2 L632.9,379.2 L615.9,368.2 L598.9,357.2 L581.9,346.2 L564.9,335.2 L547.9,324.2 L530.9,313.2 Z"/>
<path d="M1026.7,683.7 L1049.1,687.5 L1072.1,691.1 L1095.6,694.5 L1119.6,697.6 L1143.9,700.5 L1168.7,703.1 L1193.8,705.5 L1219.2,707.5 L1244.9,709.2 L1270.9,710.6 L1297.2,711.6 L1323.7,712.3 L1350.3,712.5 L1377.2,712.4 L1404.1,711.8 L1431.2,710.8 L1458.3,709.4 L1485.5,707.5 L1512.7,704.7 L1539.8,701.1 L1566.8,697.0 L1593.7,692.3 L1620.6,687.1 L1647.2,681.4 L1673.7,675.0 L1699.8,667.7 L1725.5,659.1 L1750.9,649.8 L1775.9,639.9 L1800.5,629.4 L1799.5,626.6 L1773.8,633.4 L1747.8,639.5 L1721.7,644.9 L1695.4,649.7 L1669.2,654.5 L1642.9,659.1 L1616.4,663.1 L1589.8,666.6 L1563.2,669.5 L1536.5,671.9 L1509.8,673.8 L1483.1,675.4 L1456.5,676.9 L1429.9,678.0 L1403.4,678.7 L1376.9,678.9 L1350.6,678.7 L1324.5,678.1 L1298.5,677.1 L1272.8,675.8 L1247.3,674.1 L1222.0,672.1 L1197.1,669.8 L1172.5,667.2 L1148.2,664.3 L1124.4,661.1 L1100.9,657.7 L1077.9,654.1 L1055.4,650.3 L1033.3,646.3 Z"/>
<path d="M347.5,94.9 L355.5,100.1 L363.6,105.4 L371.9,110.7 L380.3,116.0 L388.8,121.4 L397.4,126.7 L406.1,132.1 L414.8,137.6 L423.6,143.0 L432.4,148.4 L441.2,153.9 L449.9,159.3 L458.7,164.7 L467.3,170.2 L475.9,175.6 L484.4,181.0 L492.7,186.4 L500.9,191.7 L509.0,197.1 L516.9,202.4 L524.6,207.6 L532.1,212.7 L539.5,217.5 L546.7,222.3 L553.6,227.0 L560.2,231.7 L566.4,236.3 L572.3,240.8 L577.9,245.3 L582.5,249.1 L584.3,251.3 L586.5,254.1 L588.5,256.9 L590.1,259.5 L591.5,262.1 L592.5,264.5 L593.3,266.7 L593.8,268.8 L594.1,270.9 L594.4,272.8 L594.6,274.7 L594.7,276.6 L594.5,278.6 L594.2,280.7 L593.6,282.9 L592.7,285.3 L591.5,287.9 L590.0,290.6 L588.1,293.5 L585.8,296.6 L583.0,299.7 L579.9,303.0 L576.3,306.4 L572.3,309.8 L567.8,313.3 L562.9,316.8 L557.5,320.4 L551.7,324.1 L545.4,327.7 L538.5,331.5 L551.5,358.5 L559.2,355.2 L566.6,351.8 L573.6,348.3 L580.2,344.7 L586.5,341.0 L592.4,337.2 L598.0,333.3 L603.1,329.3 L607.9,325.1 L612.4,320.8 L616.5,316.4 L620.2,311.8 L623.5,307.1 L626.4,302.2 L628.9,297.1 L631.0,291.8 L632.5,286.4 L633.6,281.0 L634.1,275.4 L634.1,269.8 L633.5,264.3 L632.2,258.9 L630.5,253.7 L628.4,248.6 L625.9,243.7 L623.0,239.0 L619.8,234.4 L616.3,230.0 L612.4,225.8 L607.5,220.9 L600.8,215.7 L594.2,211.1 L587.4,206.4 L580.4,201.8 L573.0,197.2 L565.5,192.6 L557.6,188.1 L549.6,183.5 L541.2,179.2 L532.6,175.0 L523.8,170.8 L514.9,166.6 L505.8,162.5 L496.6,158.3 L487.4,154.2 L478.0,150.0 L468.6,145.9 L459.1,141.8 L449.6,137.7 L440.1,133.6 L430.6,129.5 L421.2,125.4 L411.7,121.3 L402.4,117.3 L393.1,113.2 L383.9,109.2 L374.8,105.2 L365.9,101.1 L357.1,97.1 L348.5,93.1 Z"/>
<path d="M545.3,86.7 L551.2,93.6 L557.3,100.5 L563.4,107.4 L569.5,114.3 L575.8,121.2 L582.0,128.0 L588.2,134.8 L594.5,141.6 L600.7,148.3 L606.8,155.0 L612.9,161.7 L618.9,168.4 L624.8,175.0 L630.6,181.6 L636.2,188.1 L641.7,194.6 L647.0,201.1 L652.1,207.4 L657.0,213.8 L661.7,220.0 L666.1,226.2 L670.2,232.4 L674.1,238.4 L677.7,244.3 L681.3,249.9 L684.6,255.4 L687.6,260.8 L690.2,266.2 L692.4,271.4 L694.1,275.8 L694.6,278.7 L695.1,282.4 L695.4,285.9 L695.5,289.2 L695.3,292.3 L695.0,295.3 L694.4,298.2 L693.6,301.1 L692.6,303.9 L691.4,306.6 L690.0,309.4 L688.3,312.3 L686.4,315.2 L684.3,318.2 L682.0,321.4 L679.5,324.7 L676.6,328.1 L673.4,331.5 L669.9,335.1 L666.1,338.7 L662.0,342.4 L657.6,346.1 L652.9,350.0 L647.9,353.9 L642.6,357.9 L637.1,362.0 L631.3,366.1 L625.2,370.4 L618.9,374.7 L612.2,379.2 L627.8,404.8 L634.9,401.0 L641.8,397.1 L648.6,393.3 L655.1,389.6 L661.4,385.8 L667.5,382.1 L673.3,378.3 L679.0,374.6 L684.4,370.8 L689.6,366.9 L694.6,363.1 L699.3,359.1 L703.9,355.0 L708.2,350.9 L712.2,346.6 L716.0,342.2 L719.4,337.5 L722.5,332.6 L725.2,327.6 L727.5,322.4 L729.5,317.1 L731.2,311.6 L732.5,306.0 L733.3,300.4 L733.8,294.6 L733.9,288.8 L733.5,283.0 L732.8,277.1 L731.7,271.2 L729.9,264.2 L726.8,256.6 L723.5,249.8 L719.9,243.2 L716.0,236.6 L711.7,230.1 L707.2,223.6 L702.1,217.5 L696.6,211.5 L691.0,205.5 L685.2,199.7 L679.1,193.8 L672.9,188.0 L666.5,182.3 L660.0,176.6 L653.3,170.9 L646.5,165.2 L639.6,159.5 L632.6,153.9 L625.5,148.2 L618.4,142.6 L611.2,136.9 L604.0,131.3 L596.7,125.6 L589.5,119.9 L582.2,114.2 L575.0,108.5 L567.8,102.7 L560.7,97.0 L553.7,91.1 L546.7,85.3 Z"/>
<path d="M739.3,206.7 L743.7,212.6 L748.0,218.5 L752.2,224.3 L756.4,230.1 L760.4,235.8 L764.4,241.5 L768.3,247.1 L772.1,252.7 L775.7,258.2 L779.2,263.7 L782.6,269.0 L785.9,274.4 L789.0,279.6 L792.0,284.8 L794.8,289.9 L797.5,294.9 L800.0,299.8 L802.4,304.6 L804.5,309.4 L806.5,314.0 L808.3,318.5 L809.9,322.8 L811.4,327.1 L812.6,331.2 L813.6,335.2 L814.4,339.0 L815.0,342.6 L815.4,346.0 L815.7,349.3 L816.0,351.6 L816.1,355.0 L815.9,358.8 L815.6,362.3 L815.0,365.7 L814.3,369.0 L813.4,372.2 L812.3,375.3 L811.0,378.3 L809.5,381.4 L807.8,384.3 L805.9,387.3 L803.7,390.3 L801.3,393.3 L798.6,396.3 L795.7,399.3 L792.5,402.4 L789.0,405.5 L785.5,408.8 L781.8,412.2 L777.8,415.7 L773.5,419.2 L768.9,422.7 L764.0,426.3 L759.0,429.9 L753.6,433.6 L748.0,437.3 L742.1,441.1 L736.0,444.9 L729.7,448.7 L723.1,452.7 L736.9,479.3 L744.1,476.1 L751.1,472.9 L757.9,469.6 L764.6,466.4 L771.0,463.2 L777.2,459.9 L783.3,456.6 L789.1,453.2 L794.8,449.9 L800.2,446.4 L805.5,442.8 L810.6,439.2 L815.4,435.5 L819.9,431.4 L824.1,427.2 L828.1,422.8 L831.8,418.4 L835.3,413.8 L838.6,409.1 L841.5,404.2 L844.2,399.2 L846.6,394.1 L848.7,388.8 L850.5,383.4 L851.9,377.9 L853.0,372.3 L853.8,366.5 L854.2,360.7 L854.3,354.8 L854.0,348.4 L853.1,342.6 L851.6,337.7 L849.9,332.8 L848.0,328.0 L845.8,323.2 L843.4,318.5 L840.8,313.8 L838.1,309.1 L835.1,304.5 L832.0,299.8 L828.7,295.2 L825.2,290.5 L821.6,285.9 L817.8,281.3 L813.9,276.6 L809.8,272.0 L805.6,267.3 L801.3,262.6 L796.8,257.9 L792.3,253.2 L787.6,248.5 L782.7,243.8 L777.8,239.0 L772.8,234.3 L767.7,229.5 L762.4,224.7 L757.1,219.9 L751.7,215.0 L746.3,210.2 L740.7,205.3 Z"/>
<path d="M87.5,655.9 L95.4,661.1 L103.2,666.4 L111.1,671.8 L119.1,677.3 L127.0,682.8 L135.0,688.4 L142.9,694.0 L150.8,699.6 L158.8,705.3 L166.7,711.0 L174.5,716.6 L182.4,722.3 L190.2,727.9 L197.9,733.5 L205.6,739.1 L213.2,744.6 L220.8,750.1 L228.2,755.4 L235.6,760.7 L242.9,765.9 L250.1,771.0 L257.2,776.0 L264.5,780.4 L271.6,784.7 L278.6,788.8 L285.5,792.8 L292.2,796.7 L298.8,800.3 L305.2,803.8 L313.1,807.9 L321.1,809.8 L327.0,810.4 L332.8,810.3 L338.7,809.3 L344.4,807.5 L349.8,804.9 L354.6,801.4 L358.9,797.2 L362.4,792.5 L365.1,787.4 L367.2,782.1 L368.6,776.6 L369.4,771.1 L369.4,765.4 L368.8,759.8 L367.9,754.0 L366.4,748.3 L364.6,742.5 L362.3,736.7 L359.6,730.8 L356.5,724.9 L352.9,718.9 L349.0,713.0 L344.6,707.0 L339.8,701.0 L334.6,695.1 L329.0,689.1 L322.9,683.2 L316.3,677.4 L309.5,671.7 L290.5,692.3 L296.2,698.3 L301.3,704.0 L305.9,709.7 L310.1,715.2 L313.8,720.6 L317.1,725.9 L320.0,731.0 L322.5,736.0 L324.6,740.7 L326.3,745.2 L327.7,749.4 L328.7,753.4 L329.4,757.0 L329.8,760.3 L329.9,763.2 L329.8,765.7 L329.5,767.8 L329.4,769.4 L329.2,770.5 L328.9,771.3 L328.8,771.6 L328.9,771.7 L329.0,771.6 L329.3,771.5 L329.5,771.5 L329.4,771.5 L329.0,771.7 L328.1,771.8 L326.6,771.7 L326.9,772.1 L322.6,770.0 L316.5,766.9 L310.1,763.6 L303.5,760.2 L296.7,756.6 L289.8,752.8 L282.7,748.9 L275.4,744.9 L267.7,741.2 L259.9,737.4 L251.9,733.5 L243.8,729.5 L235.6,725.5 L227.3,721.3 L218.9,717.1 L210.4,712.9 L201.9,708.6 L193.2,704.3 L184.6,700.0 L175.8,695.7 L167.1,691.4 L158.3,687.1 L149.5,682.8 L140.8,678.5 L132.0,674.3 L123.2,670.1 L114.5,666.0 L105.7,662.0 L97.1,658.0 L88.5,654.1 Z"/>
<path d="M409.8,766.0 L418.7,768.7 L427.9,771.4 L437.2,774.1 L446.6,776.8 L456.2,779.4 L466.0,782.0 L475.8,784.5 L485.7,787.0 L495.7,789.5 L505.7,791.9 L515.8,794.2 L525.8,796.4 L535.9,798.6 L546.0,800.7 L556.0,802.7 L566.0,804.6 L575.9,806.4 L585.7,808.2 L595.5,809.8 L605.1,811.0 L614.6,811.8 L624.0,812.5 L633.2,813.1 L642.1,813.6 L650.9,813.9 L659.5,814.2 L667.8,814.3 L675.9,814.3 L683.8,814.1 L692.6,813.7 L699.7,811.9 L704.5,810.2 L709.0,807.9 L713.3,805.3 L717.2,802.4 L720.9,799.2 L724.1,795.7 L727.0,791.9 L729.4,787.9 L731.4,783.7 L732.9,779.4 L734.0,775.0 L734.6,770.6 L734.8,766.2 L734.6,761.8 L734.1,757.5 L733.2,753.2 L732.0,749.1 L730.5,744.9 L728.8,740.9 L726.8,737.0 L724.5,733.1 L722.0,729.3 L719.3,725.6 L716.3,721.9 L713.2,718.4 L709.8,714.9 L706.2,711.6 L702.4,708.3 L698.7,705.3 L681.3,724.7 L684.4,727.8 L687.0,730.7 L689.4,733.6 L691.6,736.5 L693.5,739.4 L695.3,742.2 L696.8,745.0 L698.1,747.7 L699.2,750.3 L700.1,752.8 L700.8,755.2 L701.3,757.4 L701.5,759.5 L701.7,761.4 L701.6,763.2 L701.4,764.7 L701.1,766.1 L700.7,767.3 L700.3,768.3 L699.7,769.2 L699.1,770.1 L698.4,770.8 L697.6,771.5 L696.6,772.3 L695.4,773.0 L694.0,773.7 L692.3,774.4 L690.3,775.0 L688.0,775.9 L687.4,776.3 L681.9,776.8 L674.8,777.2 L667.3,777.5 L659.5,777.7 L651.5,777.9 L643.1,777.9 L634.5,777.8 L625.7,777.5 L616.7,777.2 L607.5,776.8 L598.1,776.6 L588.5,776.6 L578.8,776.5 L568.9,776.3 L559.0,776.1 L549.0,775.7 L538.9,775.3 L528.7,774.9 L518.6,774.3 L508.4,773.7 L498.2,773.0 L488.1,772.3 L478.0,771.4 L468.0,770.6 L458.0,769.6 L448.2,768.6 L438.5,767.5 L428.9,766.4 L419.5,765.3 L410.2,764.0 Z"/>
<path d="M204.8,863.0 L214.4,865.2 L224.1,867.3 L234.1,869.2 L244.3,871.0 L254.7,872.7 L265.3,874.2 L276.1,875.6 L287.0,876.8 L298.0,877.8 L309.2,878.7 L320.5,879.4 L331.8,879.9 L343.3,880.2 L354.8,880.4 L366.4,880.4 L378.0,880.2 L389.6,879.8 L401.3,879.2 L412.8,877.9 L424.4,876.4 L435.8,874.6 L447.3,872.6 L458.6,870.4 L469.9,868.0 L481.0,865.4 L492.1,862.5 L503.0,859.4 L513.8,856.1 L524.4,852.5 L534.6,848.8 L521.4,815.2 L511.8,819.3 L502.2,823.0 L492.4,826.6 L482.4,829.9 L472.2,833.0 L461.9,836.0 L451.4,838.8 L440.8,841.3 L430.1,843.7 L419.3,845.8 L408.4,847.8 L397.4,849.7 L386.4,851.9 L375.4,853.8 L364.4,855.6 L353.3,857.2 L342.3,858.6 L331.2,859.8 L320.2,860.9 L309.2,861.8 L298.3,862.5 L287.4,863.0 L276.7,863.4 L266.0,863.5 L255.5,863.5 L245.1,863.4 L234.8,863.0 L224.8,862.5 L214.9,861.9 L205.2,861.0 Z"/>
<path d="M437.5,723.7 L440.3,724.4 L443.1,725.1 L446.0,725.8 L448.8,726.5 L451.6,727.2 L454.4,727.9 L457.2,728.6 L460.0,729.3 L462.8,730.0 L465.6,730.7 L468.5,731.4 L471.3,732.1 L474.1,732.8 L476.9,733.5 L479.7,734.2 L482.5,734.9 L485.3,735.6 L488.1,736.3 L491.0,737.0 L493.8,737.7 L496.6,738.4 L499.4,739.1 L502.2,739.8 L505.0,740.5 L507.8,741.2 L510.6,741.9 L513.5,742.6 L516.3,743.3 L519.1,744.0 L521.9,744.7 L528.1,715.3 L525.3,714.8 L522.4,714.3 L519.5,713.8 L516.7,713.3 L513.8,712.8 L511.0,712.3 L508.1,711.8 L505.3,711.3 L502.4,710.8 L499.6,710.3 L496.7,709.8 L493.9,709.3 L491.0,708.8 L488.2,708.3 L485.3,707.8 L482.4,707.3 L479.6,706.8 L476.7,706.3 L473.9,705.8 L471.0,705.3 L468.2,704.8 L465.3,704.3 L462.5,703.8 L459.6,703.3 L456.8,702.8 L453.9,702.3 L451.0,701.8 L448.2,701.3 L445.3,700.8 L442.5,700.3 Z"/>
<path d="M295.3,694.2 L296.3,694.6 L297.3,694.9 L298.3,695.2 L299.3,695.6 L300.3,695.9 L301.3,696.2 L302.3,696.6 L303.3,696.9 L304.3,697.2 L305.3,697.6 L306.3,697.9 L307.3,698.2 L308.3,698.6 L309.3,698.9 L310.3,699.2 L311.3,699.6 L312.3,699.9 L313.3,700.2 L314.3,700.6 L315.3,700.9 L316.3,701.2 L317.3,701.6 L318.3,701.9 L319.3,702.2 L320.3,702.6 L321.3,702.9 L322.3,703.2 L323.3,703.6 L324.3,703.9 L325.3,704.2 L334.7,675.8 L333.7,675.4 L332.7,675.1 L331.7,674.8 L330.7,674.4 L329.7,674.1 L328.7,673.8 L327.7,673.4 L326.7,673.1 L325.7,672.8 L324.7,672.4 L323.7,672.1 L322.7,671.8 L321.7,671.4 L320.7,671.1 L319.7,670.8 L318.7,670.4 L317.7,670.1 L316.7,669.8 L315.7,669.4 L314.7,669.1 L313.7,668.8 L312.7,668.4 L311.7,668.1 L310.7,667.8 L309.7,667.4 L308.7,667.1 L307.7,666.8 L306.7,666.4 L305.7,666.1 L304.7,665.8 Z"/>
</g>
<g id="fish" fill="#0b72b6" stroke="#0b72b6" stroke-width="3" stroke-linejoin="round">
<path d="M70.3,602.0 L83.8,600.7 L98.0,599.8 L113.0,599.3 L128.8,599.3 L145.5,599.5 L163.1,600.2 L181.5,601.2 L200.9,602.6 L221.2,604.4 L242.4,606.4 L264.6,608.8 L287.8,611.6 L312.0,614.6 L337.2,618.0 L363.4,621.6 L390.8,625.5 L419.2,629.2 L448.8,632.7 L479.5,636.4 L511.4,640.4 L544.4,644.6 L578.6,648.9 L614.0,653.5 L650.6,658.3 L688.5,663.2 L727.6,668.3 L767.9,673.4 L809.7,678.0 L852.7,682.6 L897.3,687.4 L937.5,691.1 L977.6,694.6 L1017.6,697.9 L1057.5,700.9 L1097.2,703.7 L1136.7,706.2 L1176.0,708.5 L1214.9,710.4 L1253.5,712.1 L1291.7,713.4 L1329.5,714.4 L1366.8,715.1 L1403.6,715.5 L1439.8,715.5 L1475.5,715.1 L1510.4,714.3 L1544.7,713.2 L1578.3,711.6 L1611.1,709.6 L1643.1,707.2 L1674.2,704.4 L1704.4,701.1 L1733.7,697.3 L1762.1,693.0 L1789.4,688.2 L1815.7,682.9 L1840.9,677.1 L1865.0,670.7 L1888.0,663.7 L1909.8,656.1 L1924.6,649.9 L1938.0,643.6 L1950.2,637.1 L1961.4,630.2 L1971.6,623.0 L1980.8,615.3 L1989.0,607.0 L1996.1,598.1 L2002.0,588.6 L2006.5,578.5 L2009.6,567.9 L2011.0,557.0 L2010.9,546.1 L2009.3,535.5 L2006.3,525.2 L2002.2,515.3 L1997.2,505.7 L1991.2,496.6 L1984.4,487.6 L1976.8,478.9 L1968.6,470.3 L1959.6,461.9 L1949.9,453.5 L1939.5,445.2 L1928.4,436.9 L1916.8,428.7 L1904.4,420.4 L1891.5,412.2 L1878.0,404.0 L1863.3,395.4 L1842.5,384.8 L1822.0,374.7 L1801.5,365.2 L1781.0,356.1 L1760.5,347.5 L1740.0,339.4 L1719.4,331.7 L1698.8,324.5 L1678.2,317.7 L1657.5,311.5 L1636.8,305.8 L1616.1,300.5 L1595.3,295.7 L1574.5,291.3 L1553.7,287.4 L1532.9,283.8 L1512.1,280.8 L1491.2,278.1 L1470.2,275.8 L1449.3,274.0 L1428.3,272.5 L1407.3,271.5 L1386.2,270.9 L1365.1,270.6 L1344.0,270.8 L1322.8,271.3 L1301.6,272.2 L1280.3,273.5 L1259.0,275.1 L1237.8,277.1 L1242.2,326.9 L1262.9,325.3 L1283.4,324.0 L1303.8,323.0 L1324.2,322.5 L1344.4,322.3 L1364.6,322.4 L1384.8,322.9 L1404.8,323.8 L1424.8,325.1 L1444.8,326.8 L1464.7,328.8 L1484.5,331.2 L1504.3,334.1 L1524.1,337.3 L1543.8,340.9 L1563.4,344.9 L1583.0,349.3 L1602.6,354.2 L1622.2,359.4 L1641.7,365.1 L1661.3,371.1 L1680.8,377.5 L1700.4,384.3 L1719.9,391.6 L1739.4,399.3 L1758.9,407.5 L1778.4,416.1 L1798.0,425.2 L1817.5,434.7 L1836.7,444.6 L1849.4,452.0 L1862.0,459.6 L1874.0,467.2 L1885.2,474.7 L1895.6,482.1 L1905.3,489.3 L1914.2,496.5 L1922.3,503.4 L1929.4,510.1 L1935.7,516.6 L1941.1,522.9 L1945.6,528.7 L1949.2,534.2 L1951.8,539.2 L1953.7,543.6 L1954.8,547.5 L1955.3,550.8 L1955.4,553.7 L1955.0,556.5 L1954.2,559.3 L1952.8,562.4 L1950.6,565.9 L1947.5,569.8 L1943.2,574.2 L1937.6,578.8 L1930.8,583.7 L1922.6,588.7 L1913.0,593.8 L1902.1,599.0 L1890.2,603.9 L1870.7,610.8 L1849.8,617.2 L1827.5,623.1 L1803.9,628.6 L1779.1,633.6 L1753.1,638.1 L1726.0,642.2 L1697.8,645.9 L1668.6,649.1 L1638.4,651.9 L1607.3,654.3 L1575.3,656.2 L1542.5,657.7 L1508.9,658.9 L1474.5,659.7 L1439.5,660.1 L1403.8,660.1 L1367.6,659.8 L1330.8,659.1 L1293.4,658.1 L1255.7,656.8 L1217.5,655.2 L1178.9,653.3 L1140.1,651.1 L1100.9,648.6 L1061.5,645.9 L1022.0,642.9 L982.3,639.7 L942.5,636.3 L902.7,632.6 L858.6,627.9 L815.6,623.2 L773.9,618.7 L733.4,615.0 L694.1,611.5 L656.1,608.2 L619.3,604.9 L583.7,601.8 L549.3,598.9 L516.0,596.0 L483.9,593.4 L453.0,590.9 L423.1,588.6 L394.3,586.9 L366.6,585.9 L339.9,585.1 L314.2,584.5 L289.6,584.0 L266.1,583.8 L243.5,583.8 L221.9,584.0 L201.3,584.5 L181.7,585.2 L163.0,586.2 L145.2,587.4 L128.3,588.9 L112.4,590.7 L97.3,592.9 L83.0,595.3 L69.7,598.0 Z"/>
<path d="M1196.5,367.1 L1197.8,360.8 L1199.1,354.4 L1200.5,347.7 L1201.8,340.8 L1203.2,333.8 L1204.6,326.7 L1206.0,319.4 L1207.3,312.0 L1208.6,304.5 L1209.8,296.9 L1211.0,289.3 L1212.0,281.6 L1213.0,273.8 L1213.9,266.0 L1214.7,258.2 L1215.3,250.3 L1215.8,242.5 L1216.2,234.7 L1216.3,226.8 L1216.3,219.1 L1216.1,211.3 L1215.7,203.6 L1215.0,196.0 L1214.1,188.4 L1212.9,180.9 L1211.4,173.5 L1209.6,166.2 L1207.4,159.0 L1204.9,151.9 L1201.5,144.2 L1197.3,137.5 L1193.0,132.3 L1187.9,127.7 L1182.1,123.9 L1175.8,121.0 L1169.2,119.1 L1162.7,118.1 L1156.3,118.0 L1150.0,118.5 L1144.0,119.6 L1138.0,121.1 L1132.0,123.0 L1126.0,125.2 L1120.0,127.7 L1113.7,130.6 L1107.3,133.7 L1100.7,137.1 L1093.9,140.7 L1086.9,144.6 L1079.5,148.8 L1071.9,153.2 L1064.0,157.8 L1055.8,162.7 L1047.3,167.8 L1038.4,173.0 L1029.2,178.5 L1019.6,184.1 L1009.7,190.0 L999.4,195.9 L990.0,201.4 L981.7,204.8 L972.1,208.7 L962.8,212.5 L953.7,216.2 L944.9,219.8 L936.3,223.4 L928.1,226.9 L920.1,230.4 L912.4,233.9 L904.9,237.2 L897.7,240.6 L890.8,243.9 L884.1,247.2 L877.8,250.5 L871.6,253.8 L865.8,257.2 L860.2,260.5 L854.8,263.9 L849.8,267.4 L845.0,271.0 L840.4,274.6 L836.1,278.5 L832.1,282.5 L828.4,286.7 L825.0,291.1 L821.9,295.8 L819.3,300.8 L817.2,306.0 L815.5,311.4 L814.3,320.0 L815.4,328.4 L816.8,334.4 L818.7,340.2 L821.0,345.8 L823.7,351.2 L826.7,356.4 L830.1,361.5 L833.7,366.3 L837.6,371.0 L841.7,375.6 L846.0,380.0 L850.6,384.3 L855.8,387.9 L861.3,391.3 L866.8,394.6 L872.6,397.8 L878.5,400.9 L884.5,403.8 L890.6,406.7 L896.9,409.5 L903.2,412.2 L909.7,414.8 L916.3,417.3 L922.9,419.8 L929.6,422.3 L936.4,424.7 L943.3,427.0 L950.2,429.3 L957.1,431.6 L964.1,433.8 L965.9,430.2 L959.9,426.0 L954.0,421.8 L948.1,417.6 L942.3,413.4 L936.7,409.2 L931.1,404.9 L925.6,400.7 L920.3,396.5 L915.2,392.2 L910.2,388.0 L905.3,383.8 L900.7,379.6 L896.3,375.4 L892.1,371.2 L888.2,367.1 L884.5,363.0 L881.0,359.0 L877.8,355.0 L874.4,351.6 L871.3,348.3 L868.4,344.9 L865.9,341.7 L863.6,338.5 L861.7,335.3 L860.0,332.2 L858.6,329.2 L857.5,326.2 L856.6,323.4 L856.0,320.5 L855.7,320.0 L855.8,321.6 L856.3,320.3 L857.0,318.9 L857.8,317.3 L859.0,315.6 L860.6,313.7 L862.5,311.7 L864.8,309.5 L867.5,307.3 L870.6,304.9 L874.1,302.4 L878.0,299.9 L882.3,297.3 L887.0,294.6 L892.1,291.9 L897.6,289.2 L903.4,286.3 L909.5,283.5 L916.0,280.5 L922.9,277.6 L930.0,274.5 L937.5,271.4 L945.4,268.2 L953.5,265.0 L961.9,261.6 L970.6,258.1 L979.7,254.6 L989.0,250.9 L998.6,247.1 L1010.0,242.6 L1022.2,235.8 L1032.7,229.9 L1042.8,224.1 L1052.5,218.5 L1061.9,213.1 L1070.8,208.0 L1079.4,203.0 L1087.5,198.4 L1095.3,193.9 L1102.7,189.8 L1109.7,185.9 L1116.3,182.4 L1122.5,179.1 L1128.4,176.2 L1133.8,173.7 L1138.8,171.5 L1143.3,169.7 L1147.3,168.2 L1150.9,167.2 L1153.8,166.5 L1156.1,166.1 L1157.8,166.0 L1158.8,166.0 L1159.1,166.1 L1159.0,166.0 L1158.6,165.9 L1158.3,165.7 L1158.2,165.6 L1158.5,166.0 L1158.5,165.8 L1159.8,169.3 L1161.4,173.9 L1162.8,178.8 L1164.1,183.9 L1165.1,189.3 L1166.0,195.0 L1166.6,200.9 L1167.1,206.9 L1167.4,213.2 L1167.5,219.6 L1167.5,226.2 L1167.3,232.9 L1166.9,239.7 L1166.4,246.6 L1165.8,253.6 L1165.1,260.6 L1164.2,267.7 L1163.2,274.8 L1162.2,281.9 L1161.0,289.1 L1159.8,296.2 L1158.5,303.2 L1157.2,310.3 L1155.9,317.2 L1154.5,324.1 L1153.1,330.9 L1151.7,337.6 L1150.3,344.1 L1148.9,350.6 L1147.5,356.9 Z"/>
<path d="M843.4,391.3 L823.3,399.4 L803.1,408.0 L782.9,417.0 L762.8,426.4 L742.8,436.2 L722.8,446.4 L703.0,457.0 L683.3,468.0 L663.8,479.4 L644.4,491.1 L625.2,503.2 L606.2,515.7 L587.5,528.6 L568.9,541.8 L550.7,555.4 L532.7,569.3 L514.9,583.5 L497.5,598.1 L480.5,613.0 L463.9,628.5 L447.7,644.2 L431.9,660.3 L416.5,676.7 L401.5,693.4 L386.9,710.3 L372.9,727.6 L359.2,745.1 L346.1,762.9 L333.5,781.0 L321.3,799.5 L314.8,811.7 L308.8,823.5 L303.0,835.4 L297.5,847.3 L292.1,859.2 L287.1,871.1 L282.3,883.1 L277.8,895.2 L273.5,907.2 L269.4,919.3 L265.5,931.5 L261.8,943.6 L258.3,955.9 L255.1,968.1 L252.1,980.4 L249.3,992.7 L246.7,1005.1 L244.3,1017.5 L242.1,1029.9 L240.1,1042.4 L238.3,1054.9 L236.7,1067.5 L235.4,1080.2 L234.2,1092.8 L233.2,1105.6 L232.4,1118.3 L231.7,1131.2 L231.3,1144.0 L231.1,1157.0 L231.0,1170.0 L233.0,1170.0 L233.7,1157.1 L234.6,1144.2 L235.7,1131.4 L237.0,1118.7 L238.4,1106.1 L240.0,1093.5 L241.9,1081.0 L243.9,1068.6 L246.1,1056.2 L248.5,1043.9 L251.1,1031.7 L253.9,1019.5 L256.8,1007.4 L260.0,995.3 L263.4,983.4 L267.0,971.5 L270.8,959.6 L274.8,947.8 L279.0,936.1 L283.4,924.4 L288.0,912.7 L292.8,901.2 L297.9,889.6 L303.2,878.1 L308.6,866.7 L314.2,855.3 L320.1,843.9 L326.2,832.6 L332.4,821.3 L338.7,810.5 L351.0,793.3 L364.0,776.2 L377.4,759.4 L391.3,742.8 L405.6,726.6 L420.4,710.6 L435.6,695.0 L451.2,679.6 L467.2,664.6 L483.5,649.9 L500.2,635.5 L517.0,621.2 L534.2,607.3 L551.6,593.7 L569.3,580.4 L587.3,567.4 L605.5,554.9 L624.0,542.6 L642.7,530.7 L661.5,519.2 L680.5,508.0 L699.7,497.2 L719.0,486.8 L738.4,476.7 L758.0,467.1 L777.6,457.8 L797.3,449.0 L817.0,440.5 L836.7,432.4 L856.6,424.7 Z"/>
<path d="M129.8,685.2 L135.6,690.3 L141.2,695.3 L146.6,700.4 L151.9,705.6 L157.1,710.9 L162.2,716.3 L167.1,721.9 L171.9,727.5 L176.6,733.3 L181.1,739.1 L185.4,745.1 L189.6,751.2 L193.6,757.4 L197.5,763.6 L201.1,770.0 L204.6,776.6 L207.9,783.2 L211.0,789.9 L214.0,796.8 L216.7,803.8 L219.2,810.9 L221.5,818.1 L223.6,825.4 L226.0,832.8 L228.2,840.3 L230.2,847.9 L232.0,855.8 L233.5,863.8 L234.8,872.0 L235.8,880.3 L236.3,885.6 L236.6,891.1 L236.8,896.4 L236.9,901.6 L236.8,906.6 L236.7,911.5 L236.5,916.2 L236.2,920.8 L235.8,925.3 L235.3,929.7 L235.0,934.0 L234.6,938.1 L234.1,942.2 L233.6,946.2 L232.9,950.0 L232.2,953.8 L231.4,957.5 L230.5,961.0 L229.6,964.5 L228.6,967.9 L227.5,971.2 L226.4,974.4 L225.2,977.5 L224.0,980.5 L222.7,983.5 L221.4,986.4 L220.1,989.1 L218.7,991.9 L217.3,994.5 L215.8,997.1 L218.2,998.9 L220.3,996.8 L222.5,994.6 L224.6,992.3 L226.8,989.9 L229.0,987.4 L231.1,984.8 L233.2,982.1 L235.4,979.2 L237.5,976.2 L239.6,973.2 L241.6,969.9 L243.7,966.6 L245.7,963.1 L247.6,959.5 L249.6,955.7 L251.5,951.8 L253.3,947.7 L255.1,943.5 L256.8,939.1 L258.5,934.6 L259.9,929.9 L261.2,925.0 L262.4,919.9 L263.5,914.7 L264.5,909.4 L265.4,903.8 L266.2,898.1 L267.0,892.3 L267.6,886.2 L268.2,879.7 L268.5,870.1 L268.6,860.7 L268.3,851.4 L267.8,842.2 L266.9,833.0 L265.8,824.0 L264.3,815.1 L262.0,806.4 L259.5,797.8 L256.7,789.4 L253.7,781.1 L250.5,773.0 L247.0,765.0 L243.3,757.2 L239.4,749.5 L235.2,741.9 L230.9,734.5 L226.4,727.2 L221.7,720.0 L216.8,713.0 L211.8,706.2 L206.6,699.4 L201.3,692.9 L195.8,686.4 L190.1,680.1 L184.3,673.9 L178.4,667.9 L172.4,662.0 L166.3,656.2 L160.2,650.8 Z"/>
<circle cx="147" cy="672" r="22"/>
</g>
<g id="plant" fill="#76a840" stroke="#76a840" stroke-width="3" stroke-linejoin="round">
<path d="M268.2,369.1 L260.2,381.6 L252.6,394.3 L245.5,407.2 L238.8,420.3 L232.6,433.6 L226.8,447.1 L221.5,460.8 L216.7,474.6 L212.3,488.6 L208.5,502.7 L205.1,517.0 L203.2,531.5 L202.0,546.1 L201.3,560.7 L201.1,575.3 L201.5,590.0 L202.4,604.6 L203.8,619.2 L205.8,633.8 L208.3,648.4 L211.3,663.0 L214.8,677.5 L218.9,691.9 L223.6,706.3 L228.8,720.6 L234.5,734.8 L240.8,748.9 L247.6,762.9 L255.0,776.8 L262.7,790.1 L266.5,797.0 L270.5,804.0 L274.5,811.0 L278.4,817.9 L282.3,824.7 L286.3,831.4 L290.2,838.1 L294.1,844.7 L297.9,851.2 L301.8,857.6 L305.6,864.0 L309.6,870.2 L313.5,876.4 L317.3,882.5 L321.1,888.5 L324.9,894.5 L328.7,900.3 L332.4,906.1 L336.1,911.9 L339.7,917.6 L343.3,923.2 L346.8,928.7 L350.2,934.1 L353.7,939.5 L357.0,944.8 L360.3,950.1 L363.5,955.2 L366.7,960.3 L369.8,965.3 L372.9,970.3 L407.1,949.7 L404.1,944.6 L401.0,939.4 L397.9,934.2 L394.7,928.9 L391.4,923.5 L388.1,918.1 L384.7,912.6 L381.3,907.1 L377.9,901.4 L374.4,895.8 L370.9,890.0 L367.3,884.3 L363.7,878.4 L360.0,872.5 L356.4,866.5 L352.6,860.5 L348.9,854.4 L345.2,848.2 L341.4,842.0 L337.5,835.7 L333.5,829.4 L329.6,823.1 L325.6,816.7 L321.6,810.2 L317.6,803.7 L313.6,797.1 L309.5,790.4 L305.5,783.7 L301.5,776.9 L297.3,769.9 L289.6,757.1 L282.5,744.6 L276.0,732.0 L270.0,719.3 L264.5,706.5 L259.5,693.5 L255.0,680.6 L250.9,667.5 L247.4,654.4 L244.3,641.2 L241.8,628.0 L239.7,614.7 L238.1,601.4 L237.0,588.0 L236.4,574.7 L236.2,561.3 L236.5,547.9 L237.3,534.6 L238.3,521.2 L238.9,507.6 L240.0,494.0 L241.6,480.4 L243.6,466.7 L246.2,453.0 L249.2,439.3 L252.7,425.6 L256.7,411.9 L261.3,398.2 L266.3,384.6 L271.8,370.9 Z"/>
<path d="M437.0,501.7 L445.0,504.2 L452.5,507.0 L459.9,509.9 L467.1,513.2 L474.1,516.7 L481.0,520.6 L487.7,524.6 L494.2,529.0 L500.4,533.6 L506.4,538.5 L512.1,543.7 L517.6,549.1 L522.8,554.8 L527.7,560.7 L532.2,567.0 L536.4,573.5 L540.2,580.3 L543.7,587.3 L546.8,594.6 L549.5,602.2 L551.9,610.1 L553.9,618.3 L555.4,626.8 L556.5,635.6 L557.2,644.7 L557.4,654.2 L557.0,664.0 L556.2,674.1 L554.8,684.6 L553.0,694.5 L550.4,702.4 L547.0,711.3 L543.3,720.2 L539.1,729.1 L534.6,738.0 L529.7,747.0 L524.5,755.9 L519.0,764.9 L513.2,774.0 L507.2,783.1 L501.1,792.3 L494.8,801.5 L488.3,810.9 L481.8,820.3 L475.3,829.9 L468.8,839.6 L462.2,849.4 L455.8,859.4 L449.4,869.5 L443.2,879.8 L437.2,890.4 L431.4,901.1 L425.9,912.1 L420.7,923.3 L415.8,934.8 L411.4,946.5 L407.3,958.5 L403.8,970.9 L400.8,983.5 L398.3,996.8 L396.5,1013.1 L395.6,1029.0 L395.3,1045.1 L395.7,1061.1 L396.7,1077.3 L398.4,1093.5 L400.7,1109.8 L403.6,1126.3 L407.1,1143.0 L411.2,1159.9 L415.8,1177.0 L421.0,1194.3 L426.8,1212.0 L433.0,1230.0 L439.7,1248.3 L447.0,1267.0 L454.7,1286.1 L462.9,1305.7 L471.5,1325.8 L480.6,1346.4 L490.1,1367.5 L500.1,1389.2 L510.5,1411.5 L521.8,1434.2 L533.9,1457.5 L546.3,1481.4 L559.1,1506.0 L572.4,1531.4 L586.0,1557.6 L600.0,1584.6 L620.0,1575.4 L608.3,1547.2 L597.0,1519.9 L586.0,1493.5 L575.3,1467.9 L564.9,1443.0 L555.0,1418.9 L545.1,1395.6 L535.1,1373.3 L525.6,1351.7 L516.4,1330.7 L507.7,1310.3 L499.5,1290.4 L491.8,1271.2 L484.5,1252.4 L477.8,1234.2 L471.5,1216.5 L465.8,1199.2 L460.6,1182.3 L455.9,1165.8 L451.8,1149.7 L448.2,1134.0 L445.2,1118.6 L442.7,1103.5 L440.8,1088.6 L439.5,1073.9 L438.8,1059.5 L438.6,1045.2 L439.1,1031.0 L440.1,1016.9 L441.7,1003.2 L443.8,992.8 L446.4,982.2 L449.4,971.7 L452.9,961.5 L456.8,951.3 L461.1,941.3 L465.8,931.5 L470.8,921.7 L476.0,912.0 L481.6,902.4 L487.3,892.8 L493.3,883.3 L499.5,873.9 L505.8,864.5 L512.2,855.1 L518.7,845.7 L525.2,836.3 L531.7,826.9 L538.2,817.5 L544.6,808.0 L550.9,798.4 L557.1,788.8 L563.1,779.1 L568.9,769.2 L574.4,759.2 L579.7,749.0 L584.5,738.7 L589.0,728.2 L593.1,717.5 L597.0,705.5 L599.6,691.7 L601.3,679.1 L602.4,666.8 L602.9,654.6 L602.7,642.8 L601.9,631.2 L600.6,620.0 L598.6,609.0 L596.1,598.3 L593.0,588.0 L589.5,578.0 L585.4,568.3 L580.8,558.9 L575.8,549.9 L570.3,541.3 L564.4,533.0 L558.3,525.0 L551.8,517.4 L544.9,510.2 L537.7,503.3 L530.2,496.7 L522.4,490.6 L514.4,484.8 L506.1,479.3 L497.6,474.2 L488.9,469.5 L480.1,465.1 L471.0,461.1 L461.9,457.5 L453.0,454.3 Z"/>
<path d="M779.1,18.8 L765.3,27.8 L751.8,37.1 L738.5,46.5 L725.5,56.3 L712.9,66.2 L700.5,76.4 L688.5,86.8 L676.9,97.4 L665.6,108.3 L654.8,119.4 L644.4,130.7 L634.9,142.7 L626.4,155.0 L618.3,167.5 L610.8,180.2 L603.8,193.1 L597.4,206.1 L591.7,219.2 L586.6,232.5 L582.1,245.9 L578.4,259.5 L575.4,273.2 L573.1,287.1 L571.6,301.0 L570.9,315.0 L571.1,329.1 L572.1,343.3 L574.0,357.5 L576.8,371.8 L580.4,385.5 L582.4,392.8 L584.5,399.9 L586.7,406.9 L588.9,413.7 L591.1,420.4 L593.4,426.9 L595.8,433.3 L598.3,439.6 L600.9,445.6 L603.5,451.6 L606.1,457.4 L608.7,463.0 L611.3,468.6 L613.9,474.0 L616.6,479.2 L619.2,484.3 L621.9,489.3 L624.5,494.1 L627.1,498.8 L629.7,503.3 L632.2,507.7 L634.8,512.0 L637.3,516.1 L639.7,520.1 L642.1,524.0 L644.5,527.7 L646.8,531.2 L649.1,534.7 L651.2,538.0 L653.3,541.0 L686.7,519.0 L684.7,515.9 L682.7,512.8 L680.6,509.6 L678.5,506.2 L676.4,502.7 L674.2,499.1 L672.0,495.3 L669.7,491.5 L667.4,487.5 L665.1,483.3 L662.8,479.1 L660.5,474.7 L658.1,470.2 L655.8,465.6 L653.4,460.8 L651.1,455.9 L648.7,450.9 L646.4,445.8 L644.0,440.5 L641.7,435.1 L639.4,429.6 L637.2,423.9 L634.9,418.1 L632.6,412.3 L630.3,406.3 L628.1,400.2 L625.9,393.9 L623.7,387.5 L621.6,381.0 L619.6,374.5 L616.0,362.3 L613.4,350.5 L611.5,338.8 L610.3,327.0 L609.9,315.3 L610.1,303.5 L611.1,291.7 L612.7,279.9 L615.0,268.1 L617.9,256.3 L621.4,244.5 L625.6,232.6 L630.4,220.8 L635.8,209.0 L641.7,197.3 L648.3,185.6 L655.4,173.9 L663.0,162.3 L670.7,150.5 L678.5,138.4 L686.8,126.3 L695.6,114.2 L704.8,102.2 L714.5,90.3 L724.6,78.5 L735.2,66.8 L746.1,55.2 L757.3,43.7 L769.0,32.4 L780.9,21.2 Z"/>
<path d="M1055.8,181.8 L1044.1,186.5 L1032.0,191.5 L1019.8,196.8 L1007.4,202.3 L994.8,208.1 L982.2,214.1 L969.5,220.4 L956.7,226.9 L943.8,233.7 L931.0,240.7 L918.1,248.0 L905.3,255.5 L892.6,263.2 L879.9,271.2 L867.3,279.5 L854.9,288.0 L842.6,296.9 L830.5,306.0 L818.6,315.3 L807.0,325.0 L795.6,335.0 L784.5,345.2 L773.8,355.7 L763.3,366.6 L753.3,377.7 L743.6,389.2 L734.4,400.9 L725.7,413.0 L717.4,425.4 L709.5,438.3 L704.1,448.8 L699.4,459.2 L695.4,469.8 L692.0,480.5 L689.3,491.3 L687.1,502.1 L685.5,513.1 L684.5,524.0 L684.0,535.0 L684.0,546.1 L684.5,557.1 L685.4,568.2 L686.9,579.2 L688.7,590.2 L690.9,601.3 L693.6,612.3 L696.5,623.2 L699.9,634.2 L703.5,645.1 L707.5,656.0 L711.7,666.8 L716.2,677.6 L721.0,688.4 L726.0,699.1 L731.3,709.7 L736.7,720.3 L742.3,730.8 L748.1,741.2 L754.1,751.6 L759.7,761.1 L765.9,773.2 L771.7,785.6 L776.9,798.4 L781.6,811.3 L785.8,824.5 L789.5,837.9 L792.8,851.6 L795.6,865.4 L798.0,879.4 L799.8,893.6 L801.3,908.0 L802.3,922.5 L802.9,937.1 L803.1,951.9 L802.9,966.8 L802.3,981.8 L801.3,996.8 L800.0,1012.0 L798.3,1027.1 L796.3,1042.4 L794.0,1057.6 L791.3,1072.9 L788.4,1088.1 L785.1,1103.3 L781.6,1118.5 L777.8,1133.6 L773.7,1148.7 L769.5,1163.7 L765.0,1178.6 L760.0,1194.1 L755.9,1209.5 L752.0,1224.2 L747.9,1238.7 L743.9,1253.2 L739.8,1267.5 L735.6,1281.7 L731.5,1295.7 L727.3,1309.6 L723.2,1323.4 L719.0,1337.0 L715.0,1350.5 L711.1,1363.9 L707.2,1377.1 L703.4,1390.2 L699.7,1403.2 L695.9,1415.9 L692.3,1428.5 L688.7,1441.0 L685.3,1453.3 L681.9,1465.4 L678.6,1477.4 L675.4,1489.1 L672.4,1500.7 L669.5,1512.2 L666.7,1523.4 L664.1,1534.5 L661.6,1545.4 L659.3,1556.2 L657.2,1566.7 L655.3,1576.9 L684.7,1583.1 L687.0,1573.1 L689.4,1563.0 L692.1,1552.8 L694.9,1542.3 L697.9,1531.6 L701.1,1520.8 L704.4,1509.7 L707.8,1498.4 L711.4,1487.0 L715.2,1475.3 L719.0,1463.5 L722.9,1451.5 L727.0,1439.3 L731.1,1426.9 L735.3,1414.3 L739.6,1401.6 L744.0,1388.7 L748.4,1375.6 L752.9,1362.4 L757.3,1348.9 L761.6,1335.3 L765.9,1321.5 L770.3,1307.5 L774.6,1293.4 L778.9,1279.1 L783.3,1264.6 L787.5,1250.0 L791.8,1235.3 L796.0,1220.4 L800.0,1205.9 L804.8,1191.3 L809.7,1175.8 L814.3,1160.2 L818.7,1144.5 L822.9,1128.7 L826.7,1112.8 L830.3,1096.9 L833.6,1080.9 L836.6,1064.8 L839.2,1048.7 L841.5,1032.6 L843.5,1016.5 L845.1,1000.4 L846.3,984.3 L847.1,968.2 L847.5,952.2 L847.5,936.2 L847.0,920.2 L846.0,904.4 L844.6,888.6 L842.7,873.0 L840.3,857.4 L837.3,842.0 L833.8,826.7 L829.8,811.6 L825.1,796.6 L819.9,781.9 L814.0,767.4 L807.5,753.1 L800.3,738.9 L794.0,728.3 L788.4,718.5 L783.0,708.7 L777.8,698.8 L772.7,688.9 L767.9,679.0 L763.3,669.1 L758.9,659.3 L754.9,649.4 L751.0,639.6 L747.5,629.8 L744.3,620.1 L741.4,610.4 L738.8,600.8 L736.6,591.2 L734.7,581.8 L733.1,572.5 L732.0,563.2 L731.2,554.1 L730.8,545.0 L730.9,536.1 L731.3,527.4 L732.1,518.7 L733.4,510.2 L735.1,501.8 L737.2,493.5 L739.9,485.3 L742.9,477.3 L746.5,469.3 L750.5,461.7 L757.1,450.9 L764.4,440.1 L772.1,429.5 L780.3,419.1 L789.0,408.9 L798.0,399.0 L807.4,389.2 L817.2,379.7 L827.4,370.4 L837.8,361.3 L848.6,352.4 L859.6,343.8 L870.8,335.4 L882.3,327.2 L893.9,319.2 L905.8,311.5 L917.7,304.0 L929.8,296.8 L942.0,289.8 L954.2,283.0 L966.5,276.5 L978.8,270.2 L991.0,264.2 L1003.3,258.4 L1015.4,252.8 L1027.4,247.4 L1039.4,242.3 L1051.1,237.4 L1062.7,232.7 L1074.2,228.2 Z"/>
<path d="M788.7,620.8 L794.1,631.1 L799.4,641.2 L804.6,651.3 L809.8,661.2 L815.0,670.9 L820.1,680.6 L825.2,690.1 L830.2,699.5 L835.1,708.8 L840.1,718.0 L845.0,727.1 L849.9,736.0 L854.7,744.9 L859.5,753.6 L864.3,762.3 L869.0,770.8 L873.7,779.3 L878.5,787.6 L883.1,795.9 L887.8,804.1 L892.5,812.1 L897.3,820.1 L902.2,827.8 L907.1,835.4 L912.0,843.0 L916.9,850.4 L921.8,857.8 L926.7,865.2 L931.6,872.4 L936.1,879.0 L942.1,889.6 L947.8,900.6 L953.1,912.0 L957.9,923.8 L962.3,935.8 L966.2,948.1 L969.7,960.8 L972.7,973.7 L975.3,986.8 L977.5,1000.2 L979.2,1013.8 L980.4,1027.6 L981.2,1041.6 L981.6,1055.7 L981.5,1070.0 L981.0,1084.4 L980.0,1098.9 L978.5,1113.5 L977.0,1128.2 L975.1,1143.0 L972.7,1157.9 L969.8,1172.8 L966.6,1187.7 L962.8,1202.6 L958.6,1217.5 L954.0,1232.4 L948.9,1247.2 L943.4,1261.9 L937.4,1276.6 L931.2,1290.7 L924.7,1302.6 L917.7,1314.8 L910.5,1326.9 L903.1,1338.6 L895.6,1350.2 L888.0,1361.4 L880.3,1372.4 L872.4,1383.2 L864.5,1393.7 L856.4,1403.9 L848.3,1413.9 L840.2,1423.6 L832.0,1433.1 L823.7,1442.3 L815.8,1451.6 L808.2,1461.0 L800.6,1470.0 L793.0,1478.9 L785.3,1487.4 L777.7,1495.7 L770.2,1503.8 L762.6,1511.6 L755.2,1519.1 L747.8,1526.4 L740.5,1533.4 L733.3,1540.1 L726.3,1546.6 L719.3,1552.8 L712.6,1558.7 L705.9,1564.3 L714.1,1575.7 L721.6,1571.1 L729.4,1566.2 L737.4,1561.0 L745.6,1555.6 L753.9,1550.0 L762.4,1544.0 L771.1,1537.8 L779.9,1531.3 L788.8,1524.6 L797.8,1517.6 L807.0,1510.3 L816.2,1502.7 L825.4,1494.9 L834.8,1486.8 L844.2,1478.4 L853.3,1469.4 L862.0,1459.8 L870.7,1450.0 L879.4,1439.8 L888.0,1429.4 L896.6,1418.7 L905.1,1407.7 L913.5,1396.5 L921.8,1385.0 L929.9,1373.2 L938.0,1361.1 L945.9,1348.7 L953.6,1336.1 L961.1,1323.2 L968.8,1309.3 L976.1,1293.3 L982.8,1277.6 L988.9,1261.8 L994.5,1245.9 L999.7,1229.9 L1004.4,1213.9 L1008.6,1197.8 L1012.3,1181.7 L1015.5,1165.6 L1018.3,1149.6 L1020.5,1133.5 L1022.3,1117.5 L1023.2,1101.6 L1023.6,1085.7 L1023.5,1070.0 L1022.9,1054.4 L1021.9,1039.0 L1020.4,1023.8 L1018.4,1008.7 L1015.9,993.9 L1012.9,979.3 L1009.4,964.9 L1005.4,950.8 L1001.0,937.0 L996.1,923.5 L990.6,910.3 L984.7,897.4 L978.3,884.9 L971.4,872.8 L963.9,861.0 L958.4,853.5 L953.3,846.6 L948.2,839.5 L943.0,832.5 L937.9,825.3 L932.7,818.0 L927.6,810.7 L922.4,803.3 L917.0,795.9 L911.4,788.5 L905.9,781.1 L900.3,773.5 L894.6,765.8 L888.9,758.1 L883.2,750.2 L877.5,742.3 L871.7,734.2 L865.8,726.0 L859.9,717.8 L854.0,709.4 L848.0,700.9 L841.9,692.3 L835.8,683.6 L829.7,674.8 L823.4,665.8 L817.1,656.7 L810.8,647.6 L804.4,638.2 L797.9,628.8 L791.3,619.2 Z"/>
<path d="M508.7,1030.7 L512.9,1040.4 L517.3,1050.2 L521.8,1060.4 L526.4,1070.8 L531.1,1081.5 L535.9,1092.4 L540.7,1103.6 L545.5,1115.0 L550.3,1126.6 L555.1,1138.4 L559.8,1150.4 L564.4,1162.5 L569.0,1174.9 L573.4,1187.4 L578.4,1199.8 L583.7,1212.2 L588.7,1224.7 L593.6,1237.5 L598.2,1250.4 L602.7,1263.4 L606.9,1276.6 L610.8,1289.9 L614.4,1303.4 L617.8,1317.0 L620.8,1330.8 L623.4,1344.7 L625.7,1358.7 L627.6,1372.8 L629.0,1387.0 L630.1,1401.4 L630.7,1410.9 L631.6,1420.5 L632.4,1429.8 L633.3,1438.9 L634.1,1447.7 L635.0,1456.2 L635.8,1464.5 L636.6,1472.5 L637.3,1480.2 L638.1,1487.7 L638.8,1494.9 L639.5,1501.8 L640.2,1508.5 L640.9,1514.8 L641.5,1521.0 L642.1,1526.8 L642.7,1532.4 L643.2,1537.7 L643.7,1542.7 L644.2,1547.5 L644.6,1552.0 L645.1,1556.2 L645.4,1560.2 L645.8,1563.9 L646.1,1567.3 L646.3,1570.4 L646.6,1573.2 L646.8,1575.8 L646.9,1578.1 L647.0,1580.1 L673.0,1579.9 L673.1,1577.7 L673.1,1575.1 L673.1,1572.4 L673.1,1569.3 L673.1,1566.0 L673.1,1562.5 L673.1,1558.7 L673.0,1554.7 L672.9,1550.4 L672.8,1545.8 L672.7,1541.0 L672.6,1535.9 L672.5,1530.5 L672.4,1524.9 L672.3,1519.0 L672.1,1512.9 L672.0,1506.5 L671.8,1499.8 L671.7,1492.9 L671.5,1485.7 L671.4,1478.2 L671.3,1470.4 L671.1,1462.4 L671.0,1454.2 L670.8,1445.6 L670.7,1436.8 L670.6,1427.8 L670.4,1418.4 L670.3,1408.8 L669.9,1398.6 L668.5,1383.1 L666.6,1367.8 L664.3,1352.6 L661.6,1337.6 L658.5,1322.7 L655.0,1308.1 L651.2,1293.6 L647.1,1279.3 L642.7,1265.3 L638.1,1251.4 L633.2,1237.8 L628.0,1224.3 L622.7,1211.1 L617.2,1198.0 L611.6,1185.2 L605.5,1172.8 L598.5,1160.9 L591.6,1149.3 L584.5,1137.9 L577.5,1126.8 L570.5,1116.0 L563.5,1105.3 L556.6,1095.0 L549.7,1084.8 L542.9,1075.0 L536.3,1065.3 L529.8,1055.9 L523.4,1046.8 L517.3,1037.9 L511.3,1029.3 Z"/>
<circle cx="446" cy="478" r="24"/><circle cx="1063" cy="206" r="24"/>
</g>
<g id="diatoms">
<path d="M2017.0,1223.0 C2024.6,1245.9 2114.9,1307.3 2139.0,1306.0 C2131.4,1283.1 2041.1,1221.7 2017.0,1223.0 Z" fill="none" stroke="#d2c853" stroke-width="7.0" stroke-linejoin="round"/>
<path d="M2113.0,1177.0 C2103.5,1195.4 2133.1,1264.2 2153.0,1270.0 C2162.5,1251.6 2132.9,1182.8 2113.0,1177.0 Z" fill="none" stroke="#d2c853" stroke-width="7.0" stroke-linejoin="round"/>
<path d="M2198.0,1281.0 C2175.9,1279.4 2117.4,1337.9 2119.0,1360.0 C2141.1,1361.6 2199.6,1303.1 2198.0,1281.0 Z" fill="none" stroke="#d2c853" stroke-width="7.0" stroke-linejoin="round"/>
<path d="M2101.0,1251.0 C2083.6,1260.2 2067.3,1331.2 2079.0,1347.0 C2096.4,1337.8 2112.7,1266.8 2101.0,1251.0 Z" fill="#fff" stroke="#fff" stroke-width="15.0" stroke-linejoin="round"/>
<path d="M2101.0,1251.0 C2083.6,1260.2 2067.3,1331.2 2079.0,1347.0 C2096.4,1337.8 2112.7,1266.8 2101.0,1251.0 Z" fill="none" stroke="#d2c853" stroke-width="7.0" stroke-linejoin="round"/>
</g>
</defs>
<use href="#shrimp" transform="translate(400,1200) scale(0.18553)"/>
<use href="#fish" transform="translate(880,1210) scale(0.1577)"/>
<use href="#plant" transform="translate(1360,1160) scale(0.13414)"/>
<use href="#diatoms"/>
<g id="star">
<polygon points="1767.4,1295.8 1776.7,1207.8 1759.1,1206.8 1759.0,1295.4" fill="#9b6c2e"/>
<polygon points="1765.9,1298.8 1836.6,1244.5 1825.2,1231.1 1760.5,1292.4" fill="#9b6c2e"/>
<polygon points="1762.3,1299.7 1844.1,1322.8 1847.9,1305.6 1764.1,1291.5" fill="#9b6c2e"/>
<polygon points="1759.4,1297.4 1792.0,1377.5 1808.0,1369.9 1767.0,1293.8" fill="#9b6c2e"/>
<polygon points="1759.7,1293.3 1709.5,1361.3 1724.3,1370.9 1766.7,1297.9" fill="#9b6c2e"/>
<polygon points="1762.4,1291.5 1678.2,1302.7 1681.4,1319.9 1764.0,1299.7" fill="#9b6c2e"/>
<polygon points="1765.7,1292.2 1703.5,1241.2 1693.1,1255.4 1760.7,1299.0" fill="#9b6c2e"/>
<line x1="1765.6" y1="1251.4" x2="1767.4" y2="1216.1" stroke="#fff" stroke-width="1.32" opacity="0.8"/>
<line x1="1797.1" y1="1266.7" x2="1824.1" y2="1243.6" stroke="#fff" stroke-width="1.32" opacity="0.8"/>
<line x1="1804.6" y1="1304.9" x2="1837.7" y2="1312.3" stroke="#fff" stroke-width="1.32" opacity="0.8"/>
<line x1="1781.6" y1="1334.7" x2="1796.3" y2="1365.9" stroke="#fff" stroke-width="1.32" opacity="0.8"/>
<line x1="1740.1" y1="1330.8" x2="1721.5" y2="1359.0" stroke="#fff" stroke-width="1.32" opacity="0.8"/>
<line x1="1721.5" y1="1303.4" x2="1688.1" y2="1309.7" stroke="#fff" stroke-width="1.32" opacity="0.8"/>
<line x1="1730.8" y1="1271.9" x2="1704.8" y2="1253.0" stroke="#fff" stroke-width="1.32" opacity="0.8"/>
<circle cx="1763.2" cy="1295.6" r="6" fill="#fff"/>
</g>
<rect x="1146.2" y="443.3" width="436.6" height="303.2" rx="24.5" fill="#542c75"/>
<rect x="1177" y="474.1" width="375.2" height="217" fill="#fff"/>
<path d="M1325.3,760 Q1325.3,749.5 1334,749.5 L1395,749.5 Q1404.1,749.5 1404.1,760 L1404.1,790 L1325.3,790 Z" fill="#542c75"/>
<path d="M1283.9,815.4 L1283.9,798 Q1283.9,788.1 1294,788.1 L1435.5,788.1 Q1445.5,788.1 1445.5,798 L1445.5,815.4 Z" fill="#542c75"/>
<text x="1238.7" y="619.6" font-size="96" font-weight="bold" font-style="normal" textLength="240.77" lengthAdjust="spacingAndGlyphs" fill="#b2b2b2" >USER</text>
<line x1="1364.7" y1="724.3" x2="654.3" y2="1089.2" stroke="#fff" stroke-width="13.4"/>
<line x1="1364.7" y1="724.3" x2="1054.2" y2="1072.8" stroke="#fff" stroke-width="13.4"/>
<line x1="1364.7" y1="724.3" x2="1362.2" y2="1057.8" stroke="#fff" stroke-width="13.4"/>
<line x1="1364.7" y1="724.3" x2="1675.0" y2="1073.4" stroke="#fff" stroke-width="13.4"/>
<line x1="1364.7" y1="724.3" x2="2074.9" y2="1089.9" stroke="#fff" stroke-width="13.4"/>
<line x1="1364.7" y1="724.3" x2="647.2" y2="1092.9" stroke="#542c75" stroke-width="9.0"/>
<polygon points="606.3,1113.9 646.6,1074.1 662.1,1104.3" fill="#542c75"/>
<line x1="1364.7" y1="724.3" x2="1048.9" y2="1078.8" stroke="#542c75" stroke-width="9.0"/>
<polygon points="1018.3,1113.1 1041.5,1061.5 1066.9,1084.1" fill="#542c75"/>
<line x1="1364.7" y1="724.3" x2="1362.1" y2="1065.8" stroke="#542c75" stroke-width="9.0"/>
<polygon points="1361.8,1111.8 1345.2,1057.7 1379.2,1057.9" fill="#542c75"/>
<line x1="1364.7" y1="724.3" x2="1680.3" y2="1079.4" stroke="#542c75" stroke-width="9.0"/>
<polygon points="1710.9,1113.8 1662.3,1084.7 1687.7,1062.1" fill="#542c75"/>
<line x1="1364.7" y1="724.3" x2="2082.0" y2="1093.5" stroke="#542c75" stroke-width="9.0"/>
<polygon points="2122.9,1114.6 2067.1,1105.0 2082.7,1074.8" fill="#542c75"/>
<circle cx="1364.7" cy="724.3" r="18.2" fill="#542c75" stroke="#fff" stroke-width="2.2"/>
<defs><clipPath id="cloudclip"><rect x="1200" y="80" width="330" height="184.7"/></clipPath></defs>
<g clip-path="url(#cloudclip)" fill="#b2b2b2">
<circle cx="1269" cy="216.5" r="48"/><circle cx="1358" cy="183" r="82"/><circle cx="1447" cy="209.3" r="57"/><rect x="1269" y="190" width="178" height="80"/>
</g>
<path d="M1292.9,264.7 L1292.9,231.9 C1292.9,210 1325,199.3 1362.9,199.3 C1400.8,199.3 1432.9,210 1432.9,231.9 L1432.9,264.7 Z" fill="#fff"/>
<ellipse cx="1362.9" cy="231.9" rx="56" ry="18.05" fill="#542c75"/>
<path d="M1306.9,253.9 A56,11.2 0 0 0 1418.9,253.9 L1418.9,275.8 A56,17.5 0 0 1 1306.9,275.8 Z" fill="#542c75"/>
<path d="M1306.9,297.7 A56,11.0 0 0 0 1418.9,297.7 L1418.9,319.0 A56,17.5 0 0 1 1306.9,319.0 Z" fill="#542c75"/>
<path d="M1306.9,341.1 A56,11.1 0 0 0 1418.9,341.1 L1418.9,362.1 A56,18.1 0 0 1 1306.9,362.1 Z" fill="#542c75"/>
<circle cx="1271.1" cy="246.7" r="12.9" fill="#542c75" stroke="#fff" stroke-width="1.8"/>
<line x1="1271.1" y1="250" x2="1269.8" y2="388" stroke="#542c75" stroke-width="6.2"/>
<polygon points="1257.7,385.1 1281.9,385.1 1269.8,423.2" fill="#542c75"/>
<polygon points="1459.5,236.7 1471.4,274.8 1447.6,274.8" fill="#fff" stroke="#fff" stroke-width="3.6" stroke-linejoin="miter"/>
<line x1="1459.3" y1="272" x2="1457.9" y2="412.9" stroke="#542c75" stroke-width="6.2"/>
<polygon points="1459.5,236.7 1471.4,274.8 1447.6,274.8" fill="#542c75"/>
<circle cx="1457.9" cy="412.9" r="12.6" fill="#542c75"/>
<text x="1547.7" y="222.8" font-size="61" font-weight="normal" font-style="normal" textLength="609.33" lengthAdjust="spacingAndGlyphs" fill="#542c75" stroke="#fff" stroke-width="0.9">freshwaterecology.info</text>
<g fill="none" stroke="#b2b2b2" stroke-width="18.4">
<path d="M1805.4,458.0 A130.8,130.8 0 0 0 1643.1,559.3"/>
<path d="M1644.2,614.4 A130.8,130.8 0 0 0 1818.4,706.4"/>
<path d="M1866.5,674.2 A130.8,130.8 0 0 0 1853.8,482.6"/>
</g>
<g fill="#b2b2b2">
<polygon points="1615.9,552.4 1672.4,554.4 1642.2,602.4"/>
<polygon points="1795.3,684.2 1852,686.2 1822.5,734.1"/>
<polygon points="1819.5,462.7 1876.2,464.5 1847.2,510.7"/>
</g>
<path d="M1731.3,685.5 C1718,676 1708,665 1702,652 C1692,633 1687,612 1687.7,595 C1688,575 1695,560 1705.7,551 C1714,543 1725,538.5 1735,536 C1739,535 1740.5,533 1741.6,530.3 L1757,490 C1758,487 1760,486 1762,486.8 L1777,492.5 C1780,494 1780.5,497 1779,500 L1784,501.4 C1786,502 1787.5,504 1788.5,506 L1791.6,514.9 L1794.2,508.5 L1797,502.5 C1798,500.5 1800,499.8 1802,499.5 L1808.3,498.5 C1810.5,498.5 1811.5,500 1812,502 L1814.2,511.5 L1836,499.5 C1838,498.5 1840,499 1841.2,500.8 L1847.2,511 C1848,513 1847.5,515 1846,516.2 L1840.4,521.5 L1847.5,523.5 C1850,524.5 1851.3,527 1851.6,530 L1852.8,540.5 C1853,543 1851.5,544.2 1849,543.8 L1825,542.5 L1840.4,549 C1843.5,550.5 1845,553 1844.6,556 L1843.2,566 C1843,568 1841.5,568.5 1839.5,567.7 C1830,563 1818,559.5 1808.3,558 C1804.5,560 1803.5,565 1807.5,568.5 C1812,572 1816,575 1819,579 C1822.5,584 1823.5,592 1822.5,600 C1820,625 1812,643 1800,656 C1785,672 1765,682 1745,686 C1740,687.5 1735,688 1731.3,685.5 Z" fill="#542c75"/>
<path d="M1791.6,514 C1787,519 1779,521 1773,524.5 C1768,527.5 1765.5,532 1764.2,536.5" fill="none" stroke="#fff" stroke-width="2.2" stroke-linecap="round"/>
<text x="1691.5" y="620.1" font-size="70" font-weight="bold" font-style="normal" textLength="111.61" lengthAdjust="spacingAndGlyphs" fill="#fff" >API</text>
<polygon points="687.6,106.9 853.7,203.5 853.7,390.6 687.6,488.4 521.5,390.6 521.5,203.5" fill="#fff" stroke="#542c75" stroke-width="12" stroke-linejoin="round"/>
<text x="619.7" y="207.6" font-size="40" font-weight="normal" font-style="normal" textLength="129.45" lengthAdjust="spacingAndGlyphs" fill="#542c75" >fwtraits</text>
<use href="#plant" transform="translate(569.5,355.1) scale(0.5) translate(-1445.8,-1374.6) translate(1360,1160) scale(0.13414)"/>
<use href="#fish" transform="translate(608.4,292.5) rotate(-14.7) scale(0.463) translate(-891,-1304.6) translate(880,1210) scale(0.1577)"/>
<use href="#star" transform="translate(785.2,287.5) rotate(-12) scale(0.38) translate(-1763.2,-1295.6)"/>
<use href="#shrimp" transform="translate(744.2,360.8) rotate(21) scale(0.485) translate(-591.1,-1322.4) translate(400,1200) scale(0.18553)"/>
<path d="M610.2,334.5 C605.3,343.4 614.5,386.4 622.6,392.5 C627.5,383.6 618.3,340.6 610.2,334.5 Z" fill="none" stroke="#d2c853" stroke-width="4.0" stroke-linejoin="round"/>
<path d="M635.8,385.5 C643.9,383.1 654.5,355.6 650.2,348.4 C642.1,350.8 631.5,378.3 635.8,385.5 Z" fill="none" stroke="#d2c853" stroke-width="4.0" stroke-linejoin="round"/>
<path d="M593.2,386.0 C600.2,387.7 625.2,372.9 627.0,366.0 C620.0,364.3 595.0,379.1 593.2,386.0 Z" fill="#fff" stroke="#fff" stroke-width="7.2" stroke-linejoin="round"/>
<path d="M593.2,386.0 C600.2,387.7 625.2,372.9 627.0,366.0 C620.0,364.3 595.0,379.1 593.2,386.0 Z" fill="none" stroke="#d2c853" stroke-width="4.0" stroke-linejoin="round"/>
<path d="M602.3,401.0 C608.1,406.5 640.8,406.5 646.6,401.0 C640.8,395.5 608.1,395.5 602.3,401.0 Z" fill="none" stroke="#d2c853" stroke-width="4.0" stroke-linejoin="round"/>
<text x="430.0" y="555.1" font-size="42.5" font-weight="bold" font-style="normal" textLength="198.77" lengthAdjust="spacingAndGlyphs" fill="#542c75" stroke="#fff" stroke-width="0.9">supports</text>
<polygon points="433.6,591.2 445,591.2 443.9,594.8 432.4,594.8" fill="#542c75"/>
<text x="458.6" y="605.2" font-size="44.5" font-weight="normal" font-style="italic" textLength="482.23" lengthAdjust="spacingAndGlyphs" fill="#b2b2b2" >parallel taxa download</text>
<text x="461.6" y="654.8" font-size="44.5" font-weight="normal" font-style="italic" textLength="400.79" lengthAdjust="spacingAndGlyphs" fill="#b2b2b2" >and trait extraction</text>
<polygon points="433.6,690.8 445,690.8 443.9,694.4 432.4,694.4" fill="#542c75"/>
<text x="456.8" y="704.8" font-size="44.5" font-weight="normal" font-style="italic" textLength="276.99" lengthAdjust="spacingAndGlyphs" fill="#b2b2b2" >data caching</text>
<polygon points="433.6,740.2 445,740.2 443.9,743.8 432.4,743.8" fill="#542c75"/>
<text x="458.0" y="754.2" font-size="44.5" font-weight="normal" font-style="italic" textLength="312.19" lengthAdjust="spacingAndGlyphs" fill="#b2b2b2" >offline working</text>
<polygon points="944,814.8 949.2,817.4 944,820" fill="#b2b2b2"/>
</svg></body></html>
